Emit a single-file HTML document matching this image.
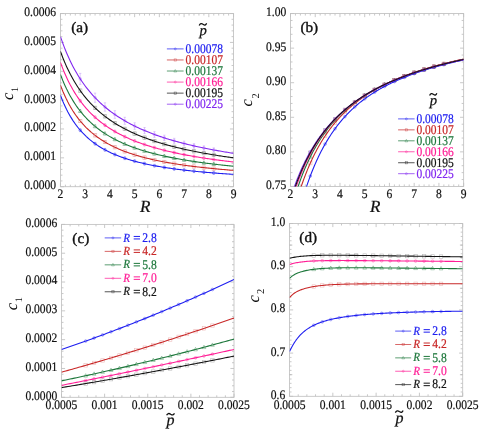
<!DOCTYPE html>
<html><head><meta charset="utf-8"><title>figure</title><style>html,body{margin:0;padding:0;background:#fff;}body{width:485px;height:434px;overflow:hidden;font-family:"Liberation Serif",serif;}svg{display:block;}</style></head><body>
<svg width="485" height="434" viewBox="0 0 485 434" font-family="Liberation Serif, serif" text-rendering="geometricPrecision" style="will-change:transform;opacity:0.999">
<defs>
<clipPath id="ca"><rect x="60.45" y="13.55" width="173.10" height="173.15"/></clipPath>
<clipPath id="cb"><rect x="290.50" y="13.55" width="173.15" height="172.90"/></clipPath>
<clipPath id="cc"><rect x="61.50" y="224.40" width="172.50" height="172.90"/></clipPath>
<clipPath id="cd"><rect x="289.55" y="223.50" width="173.15" height="172.80"/></clipPath>
</defs>
<rect width="485" height="434" fill="#fff"/>
<path d="M60.45 186.70 v-3.60 M60.45 13.55 v3.60 M65.40 186.70 v-2.00 M65.40 13.55 v2.00 M70.34 186.70 v-2.00 M70.34 13.55 v2.00 M75.29 186.70 v-2.00 M75.29 13.55 v2.00 M80.23 186.70 v-2.00 M80.23 13.55 v2.00 M85.18 186.70 v-3.60 M85.18 13.55 v3.60 M90.12 186.70 v-2.00 M90.12 13.55 v2.00 M95.07 186.70 v-2.00 M95.07 13.55 v2.00 M100.02 186.70 v-2.00 M100.02 13.55 v2.00 M104.96 186.70 v-2.00 M104.96 13.55 v2.00 M109.91 186.70 v-3.60 M109.91 13.55 v3.60 M114.85 186.70 v-2.00 M114.85 13.55 v2.00 M119.80 186.70 v-2.00 M119.80 13.55 v2.00 M124.74 186.70 v-2.00 M124.74 13.55 v2.00 M129.69 186.70 v-2.00 M129.69 13.55 v2.00 M134.64 186.70 v-3.60 M134.64 13.55 v3.60 M139.58 186.70 v-2.00 M139.58 13.55 v2.00 M144.53 186.70 v-2.00 M144.53 13.55 v2.00 M149.47 186.70 v-2.00 M149.47 13.55 v2.00 M154.42 186.70 v-2.00 M154.42 13.55 v2.00 M159.36 186.70 v-3.60 M159.36 13.55 v3.60 M164.31 186.70 v-2.00 M164.31 13.55 v2.00 M169.26 186.70 v-2.00 M169.26 13.55 v2.00 M174.20 186.70 v-2.00 M174.20 13.55 v2.00 M179.15 186.70 v-2.00 M179.15 13.55 v2.00 M184.09 186.70 v-3.60 M184.09 13.55 v3.60 M189.04 186.70 v-2.00 M189.04 13.55 v2.00 M193.98 186.70 v-2.00 M193.98 13.55 v2.00 M198.93 186.70 v-2.00 M198.93 13.55 v2.00 M203.88 186.70 v-2.00 M203.88 13.55 v2.00 M208.82 186.70 v-3.60 M208.82 13.55 v3.60 M213.77 186.70 v-2.00 M213.77 13.55 v2.00 M218.71 186.70 v-2.00 M218.71 13.55 v2.00 M223.66 186.70 v-2.00 M223.66 13.55 v2.00 M228.60 186.70 v-2.00 M228.60 13.55 v2.00 M233.55 186.70 v-3.60 M233.55 13.55 v3.60 M60.45 186.70 h3.60 M233.55 186.70 h-3.60 M60.45 180.93 h2.00 M233.55 180.93 h-2.00 M60.45 175.16 h2.00 M233.55 175.16 h-2.00 M60.45 169.38 h2.00 M233.55 169.38 h-2.00 M60.45 163.61 h2.00 M233.55 163.61 h-2.00 M60.45 157.84 h3.60 M233.55 157.84 h-3.60 M60.45 152.07 h2.00 M233.55 152.07 h-2.00 M60.45 146.30 h2.00 M233.55 146.30 h-2.00 M60.45 140.53 h2.00 M233.55 140.53 h-2.00 M60.45 134.75 h2.00 M233.55 134.75 h-2.00 M60.45 128.98 h3.60 M233.55 128.98 h-3.60 M60.45 123.21 h2.00 M233.55 123.21 h-2.00 M60.45 117.44 h2.00 M233.55 117.44 h-2.00 M60.45 111.67 h2.00 M233.55 111.67 h-2.00 M60.45 105.90 h2.00 M233.55 105.90 h-2.00 M60.45 100.12 h3.60 M233.55 100.12 h-3.60 M60.45 94.35 h2.00 M233.55 94.35 h-2.00 M60.45 88.58 h2.00 M233.55 88.58 h-2.00 M60.45 82.81 h2.00 M233.55 82.81 h-2.00 M60.45 77.04 h2.00 M233.55 77.04 h-2.00 M60.45 71.27 h3.60 M233.55 71.27 h-3.60 M60.45 65.49 h2.00 M233.55 65.49 h-2.00 M60.45 59.72 h2.00 M233.55 59.72 h-2.00 M60.45 53.95 h2.00 M233.55 53.95 h-2.00 M60.45 48.18 h2.00 M233.55 48.18 h-2.00 M60.45 42.41 h3.60 M233.55 42.41 h-3.60 M60.45 36.64 h2.00 M233.55 36.64 h-2.00 M60.45 30.86 h2.00 M233.55 30.86 h-2.00 M60.45 25.09 h2.00 M233.55 25.09 h-2.00 M60.45 19.32 h2.00 M233.55 19.32 h-2.00 M60.45 13.55 h3.60 M233.55 13.55 h-3.60" fill="none" stroke="#b2b2b2" stroke-width="0.7"/>
<rect x="60.45" y="13.55" width="173.10" height="173.15" fill="none" stroke="#c0c0c0" stroke-width="0.85"/>
<path d="M80.23 128.70 V131.70 M79.03 128.70 h2.4 M79.03 131.70 h2.4" fill="none" stroke="#1e1ef0" stroke-width="0.6" opacity="0.25"/>
<circle cx="80.23" cy="130.20" r="1.36" fill="#1e1ef0" fill-opacity="0.25" stroke="#1e1ef0" stroke-width="0.6" opacity="0.60"/>
<path d="M95.07 142.17 V145.17 M93.87 142.17 h2.4 M93.87 145.17 h2.4" fill="none" stroke="#1e1ef0" stroke-width="0.6" opacity="0.25"/>
<circle cx="95.07" cy="143.67" r="1.36" fill="#1e1ef0" fill-opacity="0.25" stroke="#1e1ef0" stroke-width="0.6" opacity="0.60"/>
<path d="M104.96 148.30 V151.30 M103.76 148.30 h2.4 M103.76 151.30 h2.4" fill="none" stroke="#1e1ef0" stroke-width="0.6" opacity="0.25"/>
<circle cx="104.96" cy="149.80" r="1.36" fill="#1e1ef0" fill-opacity="0.25" stroke="#1e1ef0" stroke-width="0.6" opacity="0.60"/>
<path d="M114.85 153.01 V156.01 M113.65 153.01 h2.4 M113.65 156.01 h2.4" fill="none" stroke="#1e1ef0" stroke-width="0.6" opacity="0.25"/>
<circle cx="114.85" cy="154.51" r="1.36" fill="#1e1ef0" fill-opacity="0.25" stroke="#1e1ef0" stroke-width="0.6" opacity="0.60"/>
<path d="M124.74 156.72 V159.72 M123.54 156.72 h2.4 M123.54 159.72 h2.4" fill="none" stroke="#1e1ef0" stroke-width="0.6" opacity="0.25"/>
<circle cx="124.74" cy="158.22" r="1.36" fill="#1e1ef0" fill-opacity="0.25" stroke="#1e1ef0" stroke-width="0.6" opacity="0.60"/>
<path d="M134.64 159.70 V162.70 M133.44 159.70 h2.4 M133.44 162.70 h2.4" fill="none" stroke="#1e1ef0" stroke-width="0.6" opacity="0.25"/>
<circle cx="134.64" cy="161.20" r="1.36" fill="#1e1ef0" fill-opacity="0.25" stroke="#1e1ef0" stroke-width="0.6" opacity="0.60"/>
<path d="M144.53 162.15 V165.15 M143.33 162.15 h2.4 M143.33 165.15 h2.4" fill="none" stroke="#1e1ef0" stroke-width="0.6" opacity="0.25"/>
<circle cx="144.53" cy="163.65" r="1.36" fill="#1e1ef0" fill-opacity="0.25" stroke="#1e1ef0" stroke-width="0.6" opacity="0.60"/>
<path d="M154.42 164.18 V167.18 M153.22 164.18 h2.4 M153.22 167.18 h2.4" fill="none" stroke="#1e1ef0" stroke-width="0.6" opacity="0.25"/>
<circle cx="154.42" cy="165.68" r="1.36" fill="#1e1ef0" fill-opacity="0.25" stroke="#1e1ef0" stroke-width="0.6" opacity="0.60"/>
<path d="M164.31 165.90 V168.90 M163.11 165.90 h2.4 M163.11 168.90 h2.4" fill="none" stroke="#1e1ef0" stroke-width="0.6" opacity="0.25"/>
<circle cx="164.31" cy="167.40" r="1.36" fill="#1e1ef0" fill-opacity="0.25" stroke="#1e1ef0" stroke-width="0.6" opacity="0.60"/>
<path d="M174.20 167.35 V170.35 M173.00 167.35 h2.4 M173.00 170.35 h2.4" fill="none" stroke="#1e1ef0" stroke-width="0.6" opacity="0.25"/>
<circle cx="174.20" cy="168.85" r="1.36" fill="#1e1ef0" fill-opacity="0.25" stroke="#1e1ef0" stroke-width="0.6" opacity="0.60"/>
<path d="M184.09 168.60 V171.60 M182.89 168.60 h2.4 M182.89 171.60 h2.4" fill="none" stroke="#1e1ef0" stroke-width="0.6" opacity="0.25"/>
<circle cx="184.09" cy="170.10" r="1.36" fill="#1e1ef0" fill-opacity="0.25" stroke="#1e1ef0" stroke-width="0.6" opacity="0.60"/>
<path d="M193.98 169.69 V172.69 M192.78 169.69 h2.4 M192.78 172.69 h2.4" fill="none" stroke="#1e1ef0" stroke-width="0.6" opacity="0.25"/>
<circle cx="193.98" cy="171.19" r="1.36" fill="#1e1ef0" fill-opacity="0.25" stroke="#1e1ef0" stroke-width="0.6" opacity="0.60"/>
<path d="M203.88 170.64 V173.64 M202.68 170.64 h2.4 M202.68 173.64 h2.4" fill="none" stroke="#1e1ef0" stroke-width="0.6" opacity="0.25"/>
<circle cx="203.88" cy="172.14" r="1.36" fill="#1e1ef0" fill-opacity="0.25" stroke="#1e1ef0" stroke-width="0.6" opacity="0.60"/>
<path d="M213.77 171.48 V174.48 M212.57 171.48 h2.4 M212.57 174.48 h2.4" fill="none" stroke="#1e1ef0" stroke-width="0.6" opacity="0.25"/>
<circle cx="213.77" cy="172.98" r="1.36" fill="#1e1ef0" fill-opacity="0.25" stroke="#1e1ef0" stroke-width="0.6" opacity="0.60"/>
<path d="M80.23 119.50 V122.50 M79.03 119.50 h2.4 M79.03 122.50 h2.4" fill="none" stroke="#c82828" stroke-width="0.6" opacity="0.25"/>
<rect x="78.53" y="119.30" width="3.40" height="3.40" fill="none" stroke="#c82828" stroke-width="0.6" opacity="0.32"/>
<path d="M95.07 133.85 V136.85 M93.87 133.85 h2.4 M93.87 136.85 h2.4" fill="none" stroke="#c82828" stroke-width="0.6" opacity="0.25"/>
<rect x="93.37" y="133.65" width="3.40" height="3.40" fill="none" stroke="#c82828" stroke-width="0.6" opacity="0.32"/>
<path d="M104.96 140.53 V143.53 M103.76 140.53 h2.4 M103.76 143.53 h2.4" fill="none" stroke="#c82828" stroke-width="0.6" opacity="0.25"/>
<rect x="103.26" y="140.33" width="3.40" height="3.40" fill="none" stroke="#c82828" stroke-width="0.6" opacity="0.32"/>
<path d="M114.85 145.74 V148.74 M113.65 145.74 h2.4 M113.65 148.74 h2.4" fill="none" stroke="#c82828" stroke-width="0.6" opacity="0.25"/>
<rect x="113.15" y="145.54" width="3.40" height="3.40" fill="none" stroke="#c82828" stroke-width="0.6" opacity="0.32"/>
<path d="M124.74 149.90 V152.90 M123.54 149.90 h2.4 M123.54 152.90 h2.4" fill="none" stroke="#c82828" stroke-width="0.6" opacity="0.25"/>
<rect x="123.04" y="149.70" width="3.40" height="3.40" fill="none" stroke="#c82828" stroke-width="0.6" opacity="0.32"/>
<path d="M134.64 153.29 V156.29 M133.44 153.29 h2.4 M133.44 156.29 h2.4" fill="none" stroke="#c82828" stroke-width="0.6" opacity="0.25"/>
<rect x="132.94" y="153.09" width="3.40" height="3.40" fill="none" stroke="#c82828" stroke-width="0.6" opacity="0.32"/>
<path d="M144.53 156.10 V159.10 M143.33 156.10 h2.4 M143.33 159.10 h2.4" fill="none" stroke="#c82828" stroke-width="0.6" opacity="0.25"/>
<rect x="142.83" y="155.90" width="3.40" height="3.40" fill="none" stroke="#c82828" stroke-width="0.6" opacity="0.32"/>
<path d="M154.42 158.46 V161.46 M153.22 158.46 h2.4 M153.22 161.46 h2.4" fill="none" stroke="#c82828" stroke-width="0.6" opacity="0.25"/>
<rect x="152.72" y="158.26" width="3.40" height="3.40" fill="none" stroke="#c82828" stroke-width="0.6" opacity="0.32"/>
<path d="M164.31 160.46 V163.46 M163.11 160.46 h2.4 M163.11 163.46 h2.4" fill="none" stroke="#c82828" stroke-width="0.6" opacity="0.25"/>
<rect x="162.61" y="160.26" width="3.40" height="3.40" fill="none" stroke="#c82828" stroke-width="0.6" opacity="0.32"/>
<path d="M174.20 162.18 V165.18 M173.00 162.18 h2.4 M173.00 165.18 h2.4" fill="none" stroke="#c82828" stroke-width="0.6" opacity="0.25"/>
<rect x="172.50" y="161.98" width="3.40" height="3.40" fill="none" stroke="#c82828" stroke-width="0.6" opacity="0.32"/>
<path d="M184.09 163.68 V166.68 M182.89 163.68 h2.4 M182.89 166.68 h2.4" fill="none" stroke="#c82828" stroke-width="0.6" opacity="0.25"/>
<rect x="182.39" y="163.48" width="3.40" height="3.40" fill="none" stroke="#c82828" stroke-width="0.6" opacity="0.32"/>
<path d="M193.98 164.98 V167.98 M192.78 164.98 h2.4 M192.78 167.98 h2.4" fill="none" stroke="#c82828" stroke-width="0.6" opacity="0.25"/>
<rect x="192.28" y="164.78" width="3.40" height="3.40" fill="none" stroke="#c82828" stroke-width="0.6" opacity="0.32"/>
<path d="M203.88 166.13 V169.13 M202.68 166.13 h2.4 M202.68 169.13 h2.4" fill="none" stroke="#c82828" stroke-width="0.6" opacity="0.25"/>
<rect x="202.18" y="165.93" width="3.40" height="3.40" fill="none" stroke="#c82828" stroke-width="0.6" opacity="0.32"/>
<path d="M213.77 167.15 V170.15 M212.57 167.15 h2.4 M212.57 170.15 h2.4" fill="none" stroke="#c82828" stroke-width="0.6" opacity="0.25"/>
<rect x="212.07" y="166.95" width="3.40" height="3.40" fill="none" stroke="#c82828" stroke-width="0.6" opacity="0.32"/>
<path d="M80.23 109.59 V112.59 M79.03 109.59 h2.4 M79.03 112.59 h2.4" fill="none" stroke="#1e783c" stroke-width="0.6" opacity="0.25"/>
<path d="M80.23 109.05 L82.10 112.45 L78.36 112.45 Z" fill="none" stroke="#1e783c" stroke-width="0.6" opacity="0.60"/>
<path d="M95.07 124.84 V127.84 M93.87 124.84 h2.4 M93.87 127.84 h2.4" fill="none" stroke="#1e783c" stroke-width="0.6" opacity="0.25"/>
<path d="M95.07 124.30 L96.94 127.70 L93.20 127.70 Z" fill="none" stroke="#1e783c" stroke-width="0.6" opacity="0.60"/>
<path d="M104.96 132.09 V135.09 M103.76 132.09 h2.4 M103.76 135.09 h2.4" fill="none" stroke="#1e783c" stroke-width="0.6" opacity="0.25"/>
<path d="M104.96 131.55 L106.83 134.95 L103.09 134.95 Z" fill="none" stroke="#1e783c" stroke-width="0.6" opacity="0.60"/>
<path d="M114.85 137.84 V140.84 M113.65 137.84 h2.4 M113.65 140.84 h2.4" fill="none" stroke="#1e783c" stroke-width="0.6" opacity="0.25"/>
<path d="M114.85 137.30 L116.72 140.70 L112.98 140.70 Z" fill="none" stroke="#1e783c" stroke-width="0.6" opacity="0.60"/>
<path d="M124.74 142.49 V145.49 M123.54 142.49 h2.4 M123.54 145.49 h2.4" fill="none" stroke="#1e783c" stroke-width="0.6" opacity="0.25"/>
<path d="M124.74 141.95 L126.61 145.35 L122.87 145.35 Z" fill="none" stroke="#1e783c" stroke-width="0.6" opacity="0.60"/>
<path d="M134.64 146.32 V149.32 M133.44 146.32 h2.4 M133.44 149.32 h2.4" fill="none" stroke="#1e783c" stroke-width="0.6" opacity="0.25"/>
<path d="M134.64 145.78 L136.51 149.18 L132.77 149.18 Z" fill="none" stroke="#1e783c" stroke-width="0.6" opacity="0.60"/>
<path d="M144.53 149.54 V152.54 M143.33 149.54 h2.4 M143.33 152.54 h2.4" fill="none" stroke="#1e783c" stroke-width="0.6" opacity="0.25"/>
<path d="M144.53 149.00 L146.40 152.40 L142.66 152.40 Z" fill="none" stroke="#1e783c" stroke-width="0.6" opacity="0.60"/>
<path d="M154.42 152.26 V155.26 M153.22 152.26 h2.4 M153.22 155.26 h2.4" fill="none" stroke="#1e783c" stroke-width="0.6" opacity="0.25"/>
<path d="M154.42 151.72 L156.29 155.12 L152.55 155.12 Z" fill="none" stroke="#1e783c" stroke-width="0.6" opacity="0.60"/>
<path d="M164.31 154.61 V157.61 M163.11 154.61 h2.4 M163.11 157.61 h2.4" fill="none" stroke="#1e783c" stroke-width="0.6" opacity="0.25"/>
<path d="M164.31 154.07 L166.18 157.47 L162.44 157.47 Z" fill="none" stroke="#1e783c" stroke-width="0.6" opacity="0.60"/>
<path d="M174.20 156.64 V159.64 M173.00 156.64 h2.4 M173.00 159.64 h2.4" fill="none" stroke="#1e783c" stroke-width="0.6" opacity="0.25"/>
<path d="M174.20 156.10 L176.07 159.50 L172.33 159.50 Z" fill="none" stroke="#1e783c" stroke-width="0.6" opacity="0.60"/>
<path d="M184.09 158.41 V161.41 M182.89 158.41 h2.4 M182.89 161.41 h2.4" fill="none" stroke="#1e783c" stroke-width="0.6" opacity="0.25"/>
<path d="M184.09 157.87 L185.96 161.27 L182.22 161.27 Z" fill="none" stroke="#1e783c" stroke-width="0.6" opacity="0.60"/>
<path d="M193.98 159.98 V162.98 M192.78 159.98 h2.4 M192.78 162.98 h2.4" fill="none" stroke="#1e783c" stroke-width="0.6" opacity="0.25"/>
<path d="M193.98 159.44 L195.85 162.84 L192.11 162.84 Z" fill="none" stroke="#1e783c" stroke-width="0.6" opacity="0.60"/>
<path d="M203.88 161.36 V164.36 M202.68 161.36 h2.4 M202.68 164.36 h2.4" fill="none" stroke="#1e783c" stroke-width="0.6" opacity="0.25"/>
<path d="M203.88 160.82 L205.75 164.22 L202.01 164.22 Z" fill="none" stroke="#1e783c" stroke-width="0.6" opacity="0.60"/>
<path d="M213.77 162.60 V165.60 M212.57 162.60 h2.4 M212.57 165.60 h2.4" fill="none" stroke="#1e783c" stroke-width="0.6" opacity="0.25"/>
<path d="M213.77 162.06 L215.64 165.46 L211.90 165.46 Z" fill="none" stroke="#1e783c" stroke-width="0.6" opacity="0.60"/>
<path d="M80.23 99.39 V102.39 M79.03 99.39 h2.4 M79.03 102.39 h2.4" fill="none" stroke="#ff1e96" stroke-width="0.6" opacity="0.25"/>
<circle cx="80.23" cy="100.89" r="1.36" fill="#ff1e96" fill-opacity="0.25" stroke="#ff1e96" stroke-width="0.6" opacity="0.60"/>
<path d="M95.07 115.80 V118.80 M93.87 115.80 h2.4 M93.87 118.80 h2.4" fill="none" stroke="#ff1e96" stroke-width="0.6" opacity="0.25"/>
<circle cx="95.07" cy="117.30" r="1.36" fill="#ff1e96" fill-opacity="0.25" stroke="#ff1e96" stroke-width="0.6" opacity="0.60"/>
<path d="M104.96 123.70 V126.70 M103.76 123.70 h2.4 M103.76 126.70 h2.4" fill="none" stroke="#ff1e96" stroke-width="0.6" opacity="0.25"/>
<circle cx="104.96" cy="125.20" r="1.36" fill="#ff1e96" fill-opacity="0.25" stroke="#ff1e96" stroke-width="0.6" opacity="0.60"/>
<path d="M114.85 130.01 V133.01 M113.65 130.01 h2.4 M113.65 133.01 h2.4" fill="none" stroke="#ff1e96" stroke-width="0.6" opacity="0.25"/>
<circle cx="114.85" cy="131.51" r="1.36" fill="#ff1e96" fill-opacity="0.25" stroke="#ff1e96" stroke-width="0.6" opacity="0.60"/>
<path d="M124.74 135.17 V138.17 M123.54 135.17 h2.4 M123.54 138.17 h2.4" fill="none" stroke="#ff1e96" stroke-width="0.6" opacity="0.25"/>
<circle cx="124.74" cy="136.67" r="1.36" fill="#ff1e96" fill-opacity="0.25" stroke="#ff1e96" stroke-width="0.6" opacity="0.60"/>
<path d="M134.64 139.45 V142.45 M133.44 139.45 h2.4 M133.44 142.45 h2.4" fill="none" stroke="#ff1e96" stroke-width="0.6" opacity="0.25"/>
<circle cx="134.64" cy="140.95" r="1.36" fill="#ff1e96" fill-opacity="0.25" stroke="#ff1e96" stroke-width="0.6" opacity="0.60"/>
<path d="M144.53 143.06 V146.06 M143.33 143.06 h2.4 M143.33 146.06 h2.4" fill="none" stroke="#ff1e96" stroke-width="0.6" opacity="0.25"/>
<circle cx="144.53" cy="144.56" r="1.36" fill="#ff1e96" fill-opacity="0.25" stroke="#ff1e96" stroke-width="0.6" opacity="0.60"/>
<path d="M154.42 146.14 V149.14 M153.22 146.14 h2.4 M153.22 149.14 h2.4" fill="none" stroke="#ff1e96" stroke-width="0.6" opacity="0.25"/>
<circle cx="154.42" cy="147.64" r="1.36" fill="#ff1e96" fill-opacity="0.25" stroke="#ff1e96" stroke-width="0.6" opacity="0.60"/>
<path d="M164.31 148.80 V151.80 M163.11 148.80 h2.4 M163.11 151.80 h2.4" fill="none" stroke="#ff1e96" stroke-width="0.6" opacity="0.25"/>
<circle cx="164.31" cy="150.30" r="1.36" fill="#ff1e96" fill-opacity="0.25" stroke="#ff1e96" stroke-width="0.6" opacity="0.60"/>
<path d="M174.20 151.12 V154.12 M173.00 151.12 h2.4 M173.00 154.12 h2.4" fill="none" stroke="#ff1e96" stroke-width="0.6" opacity="0.25"/>
<circle cx="174.20" cy="152.62" r="1.36" fill="#ff1e96" fill-opacity="0.25" stroke="#ff1e96" stroke-width="0.6" opacity="0.60"/>
<path d="M184.09 153.15 V156.15 M182.89 153.15 h2.4 M182.89 156.15 h2.4" fill="none" stroke="#ff1e96" stroke-width="0.6" opacity="0.25"/>
<circle cx="184.09" cy="154.65" r="1.36" fill="#ff1e96" fill-opacity="0.25" stroke="#ff1e96" stroke-width="0.6" opacity="0.60"/>
<path d="M193.98 154.96 V157.96 M192.78 154.96 h2.4 M192.78 157.96 h2.4" fill="none" stroke="#ff1e96" stroke-width="0.6" opacity="0.25"/>
<circle cx="193.98" cy="156.46" r="1.36" fill="#ff1e96" fill-opacity="0.25" stroke="#ff1e96" stroke-width="0.6" opacity="0.60"/>
<path d="M203.88 156.57 V159.57 M202.68 156.57 h2.4 M202.68 159.57 h2.4" fill="none" stroke="#ff1e96" stroke-width="0.6" opacity="0.25"/>
<circle cx="203.88" cy="158.07" r="1.36" fill="#ff1e96" fill-opacity="0.25" stroke="#ff1e96" stroke-width="0.6" opacity="0.60"/>
<path d="M213.77 158.01 V161.01 M212.57 158.01 h2.4 M212.57 161.01 h2.4" fill="none" stroke="#ff1e96" stroke-width="0.6" opacity="0.25"/>
<circle cx="213.77" cy="159.51" r="1.36" fill="#ff1e96" fill-opacity="0.25" stroke="#ff1e96" stroke-width="0.6" opacity="0.60"/>
<path d="M80.23 89.09 V92.09 M79.03 89.09 h2.4 M79.03 92.09 h2.4" fill="none" stroke="#141414" stroke-width="0.6" opacity="0.25"/>
<rect x="78.53" y="88.89" width="3.40" height="3.40" fill="none" stroke="#141414" stroke-width="0.6" opacity="0.30"/>
<path d="M95.07 106.36 V109.36 M93.87 106.36 h2.4 M93.87 109.36 h2.4" fill="none" stroke="#141414" stroke-width="0.6" opacity="0.25"/>
<rect x="93.37" y="106.16" width="3.40" height="3.40" fill="none" stroke="#141414" stroke-width="0.6" opacity="0.30"/>
<path d="M104.96 114.83 V117.83 M103.76 114.83 h2.4 M103.76 117.83 h2.4" fill="none" stroke="#141414" stroke-width="0.6" opacity="0.25"/>
<rect x="103.26" y="114.63" width="3.40" height="3.40" fill="none" stroke="#141414" stroke-width="0.6" opacity="0.30"/>
<path d="M114.85 121.68 V124.68 M113.65 121.68 h2.4 M113.65 124.68 h2.4" fill="none" stroke="#141414" stroke-width="0.6" opacity="0.25"/>
<rect x="113.15" y="121.48" width="3.40" height="3.40" fill="none" stroke="#141414" stroke-width="0.6" opacity="0.30"/>
<path d="M124.74 127.34 V130.34 M123.54 127.34 h2.4 M123.54 130.34 h2.4" fill="none" stroke="#141414" stroke-width="0.6" opacity="0.25"/>
<rect x="123.04" y="127.14" width="3.40" height="3.40" fill="none" stroke="#141414" stroke-width="0.6" opacity="0.30"/>
<path d="M134.64 132.09 V135.09 M133.44 132.09 h2.4 M133.44 135.09 h2.4" fill="none" stroke="#141414" stroke-width="0.6" opacity="0.25"/>
<rect x="132.94" y="131.89" width="3.40" height="3.40" fill="none" stroke="#141414" stroke-width="0.6" opacity="0.30"/>
<path d="M144.53 136.13 V139.13 M143.33 136.13 h2.4 M143.33 139.13 h2.4" fill="none" stroke="#141414" stroke-width="0.6" opacity="0.25"/>
<rect x="142.83" y="135.93" width="3.40" height="3.40" fill="none" stroke="#141414" stroke-width="0.6" opacity="0.30"/>
<path d="M154.42 139.62 V142.62 M153.22 139.62 h2.4 M153.22 142.62 h2.4" fill="none" stroke="#141414" stroke-width="0.6" opacity="0.25"/>
<rect x="152.72" y="139.42" width="3.40" height="3.40" fill="none" stroke="#141414" stroke-width="0.6" opacity="0.30"/>
<path d="M164.31 142.65 V145.65 M163.11 142.65 h2.4 M163.11 145.65 h2.4" fill="none" stroke="#141414" stroke-width="0.6" opacity="0.25"/>
<rect x="162.61" y="142.45" width="3.40" height="3.40" fill="none" stroke="#141414" stroke-width="0.6" opacity="0.30"/>
<path d="M174.20 145.32 V148.32 M173.00 145.32 h2.4 M173.00 148.32 h2.4" fill="none" stroke="#141414" stroke-width="0.6" opacity="0.25"/>
<rect x="172.50" y="145.12" width="3.40" height="3.40" fill="none" stroke="#141414" stroke-width="0.6" opacity="0.30"/>
<path d="M184.09 147.68 V150.68 M182.89 147.68 h2.4 M182.89 150.68 h2.4" fill="none" stroke="#141414" stroke-width="0.6" opacity="0.25"/>
<rect x="182.39" y="147.48" width="3.40" height="3.40" fill="none" stroke="#141414" stroke-width="0.6" opacity="0.30"/>
<path d="M193.98 149.78 V152.78 M192.78 149.78 h2.4 M192.78 152.78 h2.4" fill="none" stroke="#141414" stroke-width="0.6" opacity="0.25"/>
<rect x="192.28" y="149.58" width="3.40" height="3.40" fill="none" stroke="#141414" stroke-width="0.6" opacity="0.30"/>
<path d="M203.88 151.67 V154.67 M202.68 151.67 h2.4 M202.68 154.67 h2.4" fill="none" stroke="#141414" stroke-width="0.6" opacity="0.25"/>
<rect x="202.18" y="151.47" width="3.40" height="3.40" fill="none" stroke="#141414" stroke-width="0.6" opacity="0.30"/>
<path d="M213.77 153.37 V156.37 M212.57 153.37 h2.4 M212.57 156.37 h2.4" fill="none" stroke="#141414" stroke-width="0.6" opacity="0.25"/>
<rect x="212.07" y="153.17" width="3.40" height="3.40" fill="none" stroke="#141414" stroke-width="0.6" opacity="0.30"/>
<path d="M80.23 73.36 V84.36 M79.03 73.36 h2.4 M79.03 84.36 h2.4" fill="none" stroke="#8228f0" stroke-width="0.6" opacity="0.38"/>
<circle cx="80.23" cy="78.86" r="1.36" fill="#8228f0" fill-opacity="0.25" stroke="#8228f0" stroke-width="0.6" opacity="0.40"/>
<path d="M95.07 93.06 V102.30 M93.87 93.06 h2.4 M93.87 102.30 h2.4" fill="none" stroke="#8228f0" stroke-width="0.6" opacity="0.38"/>
<circle cx="95.07" cy="97.68" r="1.36" fill="#8228f0" fill-opacity="0.25" stroke="#8228f0" stroke-width="0.6" opacity="0.40"/>
<path d="M104.96 102.80 V111.16 M103.76 102.80 h2.4 M103.76 111.16 h2.4" fill="none" stroke="#8228f0" stroke-width="0.6" opacity="0.38"/>
<circle cx="104.96" cy="106.98" r="1.36" fill="#8228f0" fill-opacity="0.25" stroke="#8228f0" stroke-width="0.6" opacity="0.40"/>
<path d="M114.85 110.71 V118.35 M113.65 110.71 h2.4 M113.65 118.35 h2.4" fill="none" stroke="#8228f0" stroke-width="0.6" opacity="0.38"/>
<circle cx="114.85" cy="114.53" r="1.36" fill="#8228f0" fill-opacity="0.25" stroke="#8228f0" stroke-width="0.6" opacity="0.40"/>
<path d="M124.74 117.27 V124.31 M123.54 117.27 h2.4 M123.54 124.31 h2.4" fill="none" stroke="#8228f0" stroke-width="0.6" opacity="0.38"/>
<circle cx="124.74" cy="120.79" r="1.36" fill="#8228f0" fill-opacity="0.25" stroke="#8228f0" stroke-width="0.6" opacity="0.40"/>
<path d="M134.64 122.80 V129.33 M133.44 122.80 h2.4 M133.44 129.33 h2.4" fill="none" stroke="#8228f0" stroke-width="0.6" opacity="0.38"/>
<circle cx="134.64" cy="126.06" r="1.36" fill="#8228f0" fill-opacity="0.25" stroke="#8228f0" stroke-width="0.6" opacity="0.40"/>
<path d="M144.53 127.53 V133.62 M143.33 127.53 h2.4 M143.33 133.62 h2.4" fill="none" stroke="#8228f0" stroke-width="0.6" opacity="0.38"/>
<circle cx="144.53" cy="130.57" r="1.36" fill="#8228f0" fill-opacity="0.25" stroke="#8228f0" stroke-width="0.6" opacity="0.40"/>
<path d="M154.42 131.61 V137.32 M153.22 131.61 h2.4 M153.22 137.32 h2.4" fill="none" stroke="#8228f0" stroke-width="0.6" opacity="0.38"/>
<circle cx="154.42" cy="134.46" r="1.36" fill="#8228f0" fill-opacity="0.25" stroke="#8228f0" stroke-width="0.6" opacity="0.40"/>
<path d="M164.31 135.18 V140.55 M163.11 135.18 h2.4 M163.11 140.55 h2.4" fill="none" stroke="#8228f0" stroke-width="0.6" opacity="0.38"/>
<circle cx="164.31" cy="137.86" r="1.36" fill="#8228f0" fill-opacity="0.25" stroke="#8228f0" stroke-width="0.6" opacity="0.40"/>
<path d="M174.20 138.32 V143.40 M173.00 138.32 h2.4 M173.00 143.40 h2.4" fill="none" stroke="#8228f0" stroke-width="0.6" opacity="0.38"/>
<circle cx="174.20" cy="140.86" r="1.36" fill="#8228f0" fill-opacity="0.25" stroke="#8228f0" stroke-width="0.6" opacity="0.40"/>
<path d="M184.09 141.11 V145.93 M182.89 141.11 h2.4 M182.89 145.93 h2.4" fill="none" stroke="#8228f0" stroke-width="0.6" opacity="0.38"/>
<circle cx="184.09" cy="143.52" r="1.36" fill="#8228f0" fill-opacity="0.25" stroke="#8228f0" stroke-width="0.6" opacity="0.40"/>
<path d="M193.98 143.60 V148.19 M192.78 143.60 h2.4 M192.78 148.19 h2.4" fill="none" stroke="#8228f0" stroke-width="0.6" opacity="0.38"/>
<circle cx="193.98" cy="145.89" r="1.36" fill="#8228f0" fill-opacity="0.25" stroke="#8228f0" stroke-width="0.6" opacity="0.40"/>
<path d="M203.88 145.84 V150.22 M202.68 145.84 h2.4 M202.68 150.22 h2.4" fill="none" stroke="#8228f0" stroke-width="0.6" opacity="0.38"/>
<circle cx="203.88" cy="148.03" r="1.36" fill="#8228f0" fill-opacity="0.25" stroke="#8228f0" stroke-width="0.6" opacity="0.40"/>
<path d="M213.77 147.87 V152.05 M212.57 147.87 h2.4 M212.57 152.05 h2.4" fill="none" stroke="#8228f0" stroke-width="0.6" opacity="0.38"/>
<circle cx="213.77" cy="149.96" r="1.36" fill="#8228f0" fill-opacity="0.25" stroke="#8228f0" stroke-width="0.6" opacity="0.40"/>
<path d="M60.45 95.30 L61.69 98.50 L62.92 101.51 L64.16 104.35 L65.40 107.02 L66.63 109.55 L67.87 111.95 L69.11 114.21 L70.34 116.36 L71.58 118.40 L72.81 120.34 L74.05 122.19 L75.29 123.95 L76.52 125.62 L77.76 127.22 L79.00 128.75 L80.23 130.20 L81.47 131.60 L82.71 132.94 L83.94 134.21 L85.18 135.44 L86.41 136.62 L87.65 137.75 L88.89 138.83 L90.12 139.88 L91.36 140.88 L92.60 141.84 L93.83 142.77 L95.07 143.67 L96.31 144.53 L97.54 145.37 L98.78 146.17 L100.02 146.94 L101.25 147.69 L102.49 148.42 L103.73 149.12 L104.96 149.80 L106.20 150.45 L107.43 151.09 L108.67 151.70 L109.91 152.30 L111.14 152.88 L112.38 153.44 L113.62 153.98 L114.85 154.51 L116.09 155.02 L117.33 155.52 L118.56 156.00 L119.80 156.47 L121.04 156.92 L122.27 157.37 L123.51 157.80 L124.74 158.22 L125.98 158.63 L127.22 159.02 L128.45 159.41 L129.69 159.79 L130.93 160.16 L132.16 160.51 L133.40 160.86 L134.64 161.20 L135.87 161.54 L137.11 161.86 L138.35 162.18 L139.58 162.49 L140.82 162.79 L142.05 163.08 L143.29 163.37 L144.53 163.65 L145.76 163.93 L147.00 164.19 L148.24 164.46 L149.47 164.71 L150.71 164.96 L151.95 165.21 L153.18 165.45 L154.42 165.68 L155.66 165.91 L156.89 166.14 L158.13 166.36 L159.36 166.57 L160.60 166.79 L161.84 166.99 L163.07 167.20 L164.31 167.40 L165.55 167.59 L166.78 167.78 L168.02 167.97 L169.26 168.15 L170.49 168.33 L171.73 168.51 L172.97 168.68 L174.20 168.85 L175.44 169.02 L176.67 169.18 L177.91 169.34 L179.15 169.50 L180.38 169.66 L181.62 169.81 L182.86 169.96 L184.09 170.10 L185.33 170.25 L186.57 170.39 L187.80 170.53 L189.04 170.67 L190.28 170.80 L191.51 170.93 L192.75 171.06 L193.98 171.19 L195.22 171.32 L196.46 171.44 L197.69 171.56 L198.93 171.68 L200.17 171.80 L201.40 171.91 L202.64 172.03 L203.88 172.14 L205.11 172.25 L206.35 172.36 L207.59 172.47 L208.82 172.57 L210.06 172.67 L211.29 172.78 L212.53 172.88 L213.77 172.98 L215.00 173.07 L216.24 173.17 L217.48 173.26 L218.71 173.36 L219.95 173.45 L221.19 173.54 L222.42 173.63 L223.66 173.71 L224.90 173.80 L226.13 173.89 L227.37 173.97 L228.60 174.05 L229.84 174.14 L231.08 174.22 L232.31 174.30 L233.55 174.37" fill="none" stroke="#1e1ef0" stroke-width="1.10" stroke-linejoin="round" clip-path="url(#ca)"/>
<path d="M60.45 85.21 L61.69 88.42 L62.92 91.46 L64.16 94.33 L65.40 97.05 L66.63 99.62 L67.87 102.07 L69.11 104.39 L70.34 106.60 L71.58 108.71 L72.81 110.71 L74.05 112.62 L75.29 114.45 L76.52 116.20 L77.76 117.87 L79.00 119.47 L80.23 121.00 L81.47 122.47 L82.71 123.88 L83.94 125.24 L85.18 126.54 L86.41 127.79 L87.65 128.99 L88.89 130.15 L90.12 131.27 L91.36 132.35 L92.60 133.38 L93.83 134.39 L95.07 135.35 L96.31 136.29 L97.54 137.19 L98.78 138.07 L100.02 138.91 L101.25 139.73 L102.49 140.52 L103.73 141.29 L104.96 142.03 L106.20 142.75 L107.43 143.45 L108.67 144.13 L109.91 144.79 L111.14 145.43 L112.38 146.05 L113.62 146.65 L114.85 147.24 L116.09 147.81 L117.33 148.37 L118.56 148.91 L119.80 149.43 L121.04 149.94 L122.27 150.44 L123.51 150.93 L124.74 151.40 L125.98 151.86 L127.22 152.31 L128.45 152.75 L129.69 153.18 L130.93 153.60 L132.16 154.00 L133.40 154.40 L134.64 154.79 L135.87 155.17 L137.11 155.54 L138.35 155.90 L139.58 156.26 L140.82 156.60 L142.05 156.94 L143.29 157.27 L144.53 157.60 L145.76 157.91 L147.00 158.22 L148.24 158.53 L149.47 158.83 L150.71 159.12 L151.95 159.40 L153.18 159.68 L154.42 159.96 L155.66 160.22 L156.89 160.49 L158.13 160.74 L159.36 161.00 L160.60 161.24 L161.84 161.49 L163.07 161.73 L164.31 161.96 L165.55 162.19 L166.78 162.41 L168.02 162.64 L169.26 162.85 L170.49 163.07 L171.73 163.27 L172.97 163.48 L174.20 163.68 L175.44 163.88 L176.67 164.07 L177.91 164.27 L179.15 164.45 L180.38 164.64 L181.62 164.82 L182.86 165.00 L184.09 165.18 L185.33 165.35 L186.57 165.52 L187.80 165.68 L189.04 165.85 L190.28 166.01 L191.51 166.17 L192.75 166.33 L193.98 166.48 L195.22 166.63 L196.46 166.78 L197.69 166.93 L198.93 167.07 L200.17 167.22 L201.40 167.36 L202.64 167.49 L203.88 167.63 L205.11 167.76 L206.35 167.90 L207.59 168.03 L208.82 168.15 L210.06 168.28 L211.29 168.41 L212.53 168.53 L213.77 168.65 L215.00 168.77 L216.24 168.89 L217.48 169.00 L218.71 169.12 L219.95 169.23 L221.19 169.34 L222.42 169.45 L223.66 169.56 L224.90 169.66 L226.13 169.77 L227.37 169.87 L228.60 169.97 L229.84 170.08 L231.08 170.18 L232.31 170.27 L233.55 170.37" fill="none" stroke="#c82828" stroke-width="1.10" stroke-linejoin="round" clip-path="url(#ca)"/>
<path d="M60.45 74.49 L61.69 77.71 L62.92 80.77 L64.16 83.66 L65.40 86.41 L66.63 89.03 L67.87 91.52 L69.11 93.89 L70.34 96.15 L71.58 98.32 L72.81 100.38 L74.05 102.36 L75.29 104.25 L76.52 106.07 L77.76 107.81 L79.00 109.48 L80.23 111.09 L81.47 112.63 L82.71 114.12 L83.94 115.54 L85.18 116.92 L86.41 118.25 L87.65 119.53 L88.89 120.76 L90.12 121.96 L91.36 123.11 L92.60 124.22 L93.83 125.30 L95.07 126.34 L96.31 127.35 L97.54 128.32 L98.78 129.27 L100.02 130.19 L101.25 131.08 L102.49 131.94 L103.73 132.78 L104.96 133.59 L106.20 134.38 L107.43 135.15 L108.67 135.90 L109.91 136.62 L111.14 137.33 L112.38 138.02 L113.62 138.69 L114.85 139.34 L116.09 139.97 L117.33 140.59 L118.56 141.19 L119.80 141.78 L121.04 142.35 L122.27 142.91 L123.51 143.46 L124.74 143.99 L125.98 144.51 L127.22 145.01 L128.45 145.51 L129.69 145.99 L130.93 146.47 L132.16 146.93 L133.40 147.38 L134.64 147.82 L135.87 148.26 L137.11 148.68 L138.35 149.09 L139.58 149.50 L140.82 149.90 L142.05 150.28 L143.29 150.66 L144.53 151.04 L145.76 151.40 L147.00 151.76 L148.24 152.11 L149.47 152.45 L150.71 152.79 L151.95 153.12 L153.18 153.45 L154.42 153.76 L155.66 154.08 L156.89 154.38 L158.13 154.68 L159.36 154.98 L160.60 155.27 L161.84 155.55 L163.07 155.83 L164.31 156.11 L165.55 156.38 L166.78 156.64 L168.02 156.90 L169.26 157.16 L170.49 157.41 L171.73 157.65 L172.97 157.90 L174.20 158.14 L175.44 158.37 L176.67 158.60 L177.91 158.83 L179.15 159.05 L180.38 159.27 L181.62 159.49 L182.86 159.70 L184.09 159.91 L185.33 160.12 L186.57 160.32 L187.80 160.52 L189.04 160.72 L190.28 160.91 L191.51 161.10 L192.75 161.29 L193.98 161.48 L195.22 161.66 L196.46 161.84 L197.69 162.02 L198.93 162.19 L200.17 162.36 L201.40 162.53 L202.64 162.70 L203.88 162.86 L205.11 163.03 L206.35 163.19 L207.59 163.35 L208.82 163.50 L210.06 163.66 L211.29 163.81 L212.53 163.96 L213.77 164.10 L215.00 164.25 L216.24 164.39 L217.48 164.54 L218.71 164.68 L219.95 164.81 L221.19 164.95 L222.42 165.08 L223.66 165.22 L224.90 165.35 L226.13 165.48 L227.37 165.61 L228.60 165.73 L229.84 165.86 L231.08 165.98 L232.31 166.10 L233.55 166.22" fill="none" stroke="#1e783c" stroke-width="1.10" stroke-linejoin="round" clip-path="url(#ca)"/>
<path d="M60.45 62.37 L61.69 65.72 L62.92 68.90 L64.16 71.93 L65.40 74.80 L66.63 77.54 L67.87 80.16 L69.11 82.65 L70.34 85.04 L71.58 87.32 L72.81 89.51 L74.05 91.60 L75.29 93.61 L76.52 95.54 L77.76 97.39 L79.00 99.17 L80.23 100.89 L81.47 102.54 L82.71 104.12 L83.94 105.66 L85.18 107.13 L86.41 108.56 L87.65 109.94 L88.89 111.27 L90.12 112.55 L91.36 113.80 L92.60 115.00 L93.83 116.17 L95.07 117.30 L96.31 118.39 L97.54 119.45 L98.78 120.48 L100.02 121.48 L101.25 122.45 L102.49 123.40 L103.73 124.31 L104.96 125.20 L106.20 126.07 L107.43 126.91 L108.67 127.73 L109.91 128.53 L111.14 129.30 L112.38 130.06 L113.62 130.80 L114.85 131.51 L116.09 132.22 L117.33 132.90 L118.56 133.56 L119.80 134.22 L121.04 134.85 L122.27 135.47 L123.51 136.08 L124.74 136.67 L125.98 137.24 L127.22 137.81 L128.45 138.36 L129.69 138.90 L130.93 139.43 L132.16 139.95 L133.40 140.45 L134.64 140.95 L135.87 141.43 L137.11 141.91 L138.35 142.37 L139.58 142.82 L140.82 143.27 L142.05 143.71 L143.29 144.14 L144.53 144.56 L145.76 144.97 L147.00 145.37 L148.24 145.77 L149.47 146.15 L150.71 146.54 L151.95 146.91 L153.18 147.28 L154.42 147.64 L155.66 147.99 L156.89 148.34 L158.13 148.68 L159.36 149.01 L160.60 149.34 L161.84 149.67 L163.07 149.98 L164.31 150.30 L165.55 150.60 L166.78 150.91 L168.02 151.20 L169.26 151.50 L170.49 151.78 L171.73 152.06 L172.97 152.34 L174.20 152.62 L175.44 152.88 L176.67 153.15 L177.91 153.41 L179.15 153.67 L180.38 153.92 L181.62 154.17 L182.86 154.41 L184.09 154.65 L185.33 154.89 L186.57 155.13 L187.80 155.36 L189.04 155.58 L190.28 155.81 L191.51 156.03 L192.75 156.24 L193.98 156.46 L195.22 156.67 L196.46 156.88 L197.69 157.08 L198.93 157.28 L200.17 157.48 L201.40 157.68 L202.64 157.88 L203.88 158.07 L205.11 158.26 L206.35 158.44 L207.59 158.63 L208.82 158.81 L210.06 158.99 L211.29 159.16 L212.53 159.34 L213.77 159.51 L215.00 159.68 L216.24 159.85 L217.48 160.01 L218.71 160.17 L219.95 160.34 L221.19 160.50 L222.42 160.65 L223.66 160.81 L224.90 160.96 L226.13 161.11 L227.37 161.26 L228.60 161.41 L229.84 161.56 L231.08 161.70 L232.31 161.84 L233.55 161.99" fill="none" stroke="#ff1e96" stroke-width="1.10" stroke-linejoin="round" clip-path="url(#ca)"/>
<path d="M60.45 51.41 L61.69 54.75 L62.92 57.94 L64.16 60.98 L65.40 63.88 L66.63 66.66 L67.87 69.31 L69.11 71.84 L70.34 74.28 L71.58 76.61 L72.81 78.85 L74.05 81.00 L75.29 83.06 L76.52 85.05 L77.76 86.97 L79.00 88.81 L80.23 90.59 L81.47 92.31 L82.71 93.97 L83.94 95.57 L85.18 97.12 L86.41 98.61 L87.65 100.06 L88.89 101.46 L90.12 102.82 L91.36 104.14 L92.60 105.42 L93.83 106.65 L95.07 107.86 L96.31 109.02 L97.54 110.16 L98.78 111.26 L100.02 112.33 L101.25 113.37 L102.49 114.38 L103.73 115.37 L104.96 116.33 L106.20 117.26 L107.43 118.17 L108.67 119.06 L109.91 119.93 L111.14 120.77 L112.38 121.59 L113.62 122.40 L114.85 123.18 L116.09 123.95 L117.33 124.69 L118.56 125.42 L119.80 126.14 L121.04 126.84 L122.27 127.52 L123.51 128.19 L124.74 128.84 L125.98 129.48 L127.22 130.10 L128.45 130.71 L129.69 131.31 L130.93 131.90 L132.16 132.47 L133.40 133.04 L134.64 133.59 L135.87 134.13 L137.11 134.66 L138.35 135.18 L139.58 135.69 L140.82 136.19 L142.05 136.68 L143.29 137.16 L144.53 137.63 L145.76 138.10 L147.00 138.55 L148.24 139.00 L149.47 139.44 L150.71 139.87 L151.95 140.29 L153.18 140.71 L154.42 141.12 L155.66 141.52 L156.89 141.92 L158.13 142.31 L159.36 142.69 L160.60 143.06 L161.84 143.43 L163.07 143.80 L164.31 144.15 L165.55 144.51 L166.78 144.85 L168.02 145.19 L169.26 145.53 L170.49 145.86 L171.73 146.18 L172.97 146.50 L174.20 146.82 L175.44 147.13 L176.67 147.44 L177.91 147.74 L179.15 148.03 L180.38 148.33 L181.62 148.62 L182.86 148.90 L184.09 149.18 L185.33 149.46 L186.57 149.73 L187.80 150.00 L189.04 150.26 L190.28 150.52 L191.51 150.78 L192.75 151.03 L193.98 151.28 L195.22 151.53 L196.46 151.77 L197.69 152.02 L198.93 152.25 L200.17 152.49 L201.40 152.72 L202.64 152.95 L203.88 153.17 L205.11 153.39 L206.35 153.61 L207.59 153.83 L208.82 154.04 L210.06 154.26 L211.29 154.46 L212.53 154.67 L213.77 154.87 L215.00 155.08 L216.24 155.27 L217.48 155.47 L218.71 155.67 L219.95 155.86 L221.19 156.05 L222.42 156.23 L223.66 156.42 L224.90 156.60 L226.13 156.78 L227.37 156.96 L228.60 157.14 L229.84 157.31 L231.08 157.49 L232.31 157.66 L233.55 157.83" fill="none" stroke="#141414" stroke-width="1.10" stroke-linejoin="round" clip-path="url(#ca)"/>
<path d="M60.45 36.60 L61.69 40.19 L62.92 43.61 L64.16 46.88 L65.40 50.00 L66.63 52.98 L67.87 55.84 L69.11 58.57 L70.34 61.19 L71.58 63.71 L72.81 66.13 L74.05 68.46 L75.29 70.70 L76.52 72.85 L77.76 74.93 L79.00 76.93 L80.23 78.86 L81.47 80.73 L82.71 82.53 L83.94 84.27 L85.18 85.96 L86.41 87.59 L87.65 89.17 L88.89 90.70 L90.12 92.18 L91.36 93.62 L92.60 95.01 L93.83 96.37 L95.07 97.68 L96.31 98.96 L97.54 100.20 L98.78 101.41 L100.02 102.58 L101.25 103.73 L102.49 104.84 L103.73 105.92 L104.96 106.98 L106.20 108.01 L107.43 109.01 L108.67 109.99 L109.91 110.94 L111.14 111.87 L112.38 112.78 L113.62 113.66 L114.85 114.53 L116.09 115.38 L117.33 116.20 L118.56 117.01 L119.80 117.80 L121.04 118.57 L122.27 119.33 L123.51 120.07 L124.74 120.79 L125.98 121.50 L127.22 122.19 L128.45 122.87 L129.69 123.54 L130.93 124.19 L132.16 124.83 L133.40 125.45 L134.64 126.06 L135.87 126.67 L137.11 127.26 L138.35 127.84 L139.58 128.40 L140.82 128.96 L142.05 129.51 L143.29 130.04 L144.53 130.57 L145.76 131.09 L147.00 131.60 L148.24 132.10 L149.47 132.59 L150.71 133.07 L151.95 133.54 L153.18 134.01 L154.42 134.46 L155.66 134.91 L156.89 135.36 L158.13 135.79 L159.36 136.22 L160.60 136.64 L161.84 137.06 L163.07 137.46 L164.31 137.86 L165.55 138.26 L166.78 138.65 L168.02 139.03 L169.26 139.41 L170.49 139.78 L171.73 140.14 L172.97 140.50 L174.20 140.86 L175.44 141.21 L176.67 141.55 L177.91 141.89 L179.15 142.23 L180.38 142.56 L181.62 142.88 L182.86 143.20 L184.09 143.52 L185.33 143.83 L186.57 144.14 L187.80 144.44 L189.04 144.74 L190.28 145.03 L191.51 145.32 L192.75 145.61 L193.98 145.89 L195.22 146.17 L196.46 146.45 L197.69 146.72 L198.93 146.99 L200.17 147.25 L201.40 147.52 L202.64 147.77 L203.88 148.03 L205.11 148.28 L206.35 148.53 L207.59 148.78 L208.82 149.02 L210.06 149.26 L211.29 149.49 L212.53 149.73 L213.77 149.96 L215.00 150.19 L216.24 150.41 L217.48 150.64 L218.71 150.86 L219.95 151.08 L221.19 151.29 L222.42 151.50 L223.66 151.71 L224.90 151.92 L226.13 152.13 L227.37 152.33 L228.60 152.53 L229.84 152.73 L231.08 152.93 L232.31 153.12 L233.55 153.31" fill="none" stroke="#8228f0" stroke-width="1.10" stroke-linejoin="round" clip-path="url(#ca)"/>
<text transform="translate(60.45 198.40) scale(0.890 1)" font-size="13.00" text-anchor="middle" fill="#111"   stroke="#111" stroke-width="0.22">2</text>
<text transform="translate(85.18 198.40) scale(0.890 1)" font-size="13.00" text-anchor="middle" fill="#111"   stroke="#111" stroke-width="0.22">3</text>
<text transform="translate(109.91 198.40) scale(0.890 1)" font-size="13.00" text-anchor="middle" fill="#111"   stroke="#111" stroke-width="0.22">4</text>
<text transform="translate(134.64 198.40) scale(0.890 1)" font-size="13.00" text-anchor="middle" fill="#111"   stroke="#111" stroke-width="0.22">5</text>
<text transform="translate(159.36 198.40) scale(0.890 1)" font-size="13.00" text-anchor="middle" fill="#111"   stroke="#111" stroke-width="0.22">6</text>
<text transform="translate(184.09 198.40) scale(0.890 1)" font-size="13.00" text-anchor="middle" fill="#111"   stroke="#111" stroke-width="0.22">7</text>
<text transform="translate(208.82 198.40) scale(0.890 1)" font-size="13.00" text-anchor="middle" fill="#111"   stroke="#111" stroke-width="0.22">8</text>
<text transform="translate(233.55 198.40) scale(0.890 1)" font-size="13.00" text-anchor="middle" fill="#111"   stroke="#111" stroke-width="0.22">9</text>
<text transform="translate(56.15 189.10) scale(0.890 1)" font-size="13.00" text-anchor="end" fill="#111"   stroke="#111" stroke-width="0.22">0.0000</text>
<text transform="translate(56.15 160.24) scale(0.890 1)" font-size="13.00" text-anchor="end" fill="#111"   stroke="#111" stroke-width="0.22">0.0001</text>
<text transform="translate(56.15 131.38) scale(0.890 1)" font-size="13.00" text-anchor="end" fill="#111"   stroke="#111" stroke-width="0.22">0.0002</text>
<text transform="translate(56.15 102.52) scale(0.890 1)" font-size="13.00" text-anchor="end" fill="#111"   stroke="#111" stroke-width="0.22">0.0003</text>
<text transform="translate(56.15 73.67) scale(0.890 1)" font-size="13.00" text-anchor="end" fill="#111"   stroke="#111" stroke-width="0.22">0.0004</text>
<text transform="translate(56.15 44.81) scale(0.890 1)" font-size="13.00" text-anchor="end" fill="#111"   stroke="#111" stroke-width="0.22">0.0005</text>
<text transform="translate(56.15 15.95) scale(0.890 1)" font-size="13.00" text-anchor="end" fill="#111"   stroke="#111" stroke-width="0.22">0.0006</text>
<path d="M290.50 186.45 v-3.60 M290.50 13.55 v3.60 M295.45 186.45 v-2.00 M295.45 13.55 v2.00 M300.39 186.45 v-2.00 M300.39 13.55 v2.00 M305.34 186.45 v-2.00 M305.34 13.55 v2.00 M310.29 186.45 v-2.00 M310.29 13.55 v2.00 M315.24 186.45 v-3.60 M315.24 13.55 v3.60 M320.18 186.45 v-2.00 M320.18 13.55 v2.00 M325.13 186.45 v-2.00 M325.13 13.55 v2.00 M330.08 186.45 v-2.00 M330.08 13.55 v2.00 M335.02 186.45 v-2.00 M335.02 13.55 v2.00 M339.97 186.45 v-3.60 M339.97 13.55 v3.60 M344.92 186.45 v-2.00 M344.92 13.55 v2.00 M349.87 186.45 v-2.00 M349.87 13.55 v2.00 M354.81 186.45 v-2.00 M354.81 13.55 v2.00 M359.76 186.45 v-2.00 M359.76 13.55 v2.00 M364.71 186.45 v-3.60 M364.71 13.55 v3.60 M369.65 186.45 v-2.00 M369.65 13.55 v2.00 M374.60 186.45 v-2.00 M374.60 13.55 v2.00 M379.55 186.45 v-2.00 M379.55 13.55 v2.00 M384.50 186.45 v-2.00 M384.50 13.55 v2.00 M389.44 186.45 v-3.60 M389.44 13.55 v3.60 M394.39 186.45 v-2.00 M394.39 13.55 v2.00 M399.34 186.45 v-2.00 M399.34 13.55 v2.00 M404.28 186.45 v-2.00 M404.28 13.55 v2.00 M409.23 186.45 v-2.00 M409.23 13.55 v2.00 M414.18 186.45 v-3.60 M414.18 13.55 v3.60 M419.13 186.45 v-2.00 M419.13 13.55 v2.00 M424.07 186.45 v-2.00 M424.07 13.55 v2.00 M429.02 186.45 v-2.00 M429.02 13.55 v2.00 M433.97 186.45 v-2.00 M433.97 13.55 v2.00 M438.91 186.45 v-3.60 M438.91 13.55 v3.60 M443.86 186.45 v-2.00 M443.86 13.55 v2.00 M448.81 186.45 v-2.00 M448.81 13.55 v2.00 M453.76 186.45 v-2.00 M453.76 13.55 v2.00 M458.70 186.45 v-2.00 M458.70 13.55 v2.00 M463.65 186.45 v-3.60 M463.65 13.55 v3.60 M290.50 186.45 h3.60 M463.65 186.45 h-3.60 M290.50 179.53 h2.00 M463.65 179.53 h-2.00 M290.50 172.62 h2.00 M463.65 172.62 h-2.00 M290.50 165.70 h2.00 M463.65 165.70 h-2.00 M290.50 158.79 h2.00 M463.65 158.79 h-2.00 M290.50 151.87 h3.60 M463.65 151.87 h-3.60 M290.50 144.95 h2.00 M463.65 144.95 h-2.00 M290.50 138.04 h2.00 M463.65 138.04 h-2.00 M290.50 131.12 h2.00 M463.65 131.12 h-2.00 M290.50 124.21 h2.00 M463.65 124.21 h-2.00 M290.50 117.29 h3.60 M463.65 117.29 h-3.60 M290.50 110.37 h2.00 M463.65 110.37 h-2.00 M290.50 103.46 h2.00 M463.65 103.46 h-2.00 M290.50 96.54 h2.00 M463.65 96.54 h-2.00 M290.50 89.63 h2.00 M463.65 89.63 h-2.00 M290.50 82.71 h3.60 M463.65 82.71 h-3.60 M290.50 75.79 h2.00 M463.65 75.79 h-2.00 M290.50 68.88 h2.00 M463.65 68.88 h-2.00 M290.50 61.96 h2.00 M463.65 61.96 h-2.00 M290.50 55.05 h2.00 M463.65 55.05 h-2.00 M290.50 48.13 h3.60 M463.65 48.13 h-3.60 M290.50 41.21 h2.00 M463.65 41.21 h-2.00 M290.50 34.30 h2.00 M463.65 34.30 h-2.00 M290.50 27.38 h2.00 M463.65 27.38 h-2.00 M290.50 20.47 h2.00 M463.65 20.47 h-2.00 M290.50 13.55 h3.60 M463.65 13.55 h-3.60" fill="none" stroke="#b2b2b2" stroke-width="0.7"/>
<rect x="290.50" y="13.55" width="173.15" height="172.90" fill="none" stroke="#c0c0c0" stroke-width="0.85"/>
<circle cx="310.29" cy="176.03" r="1.36" fill="#1e1ef0" fill-opacity="0.25" stroke="#1e1ef0" stroke-width="0.6" opacity="0.60"/>
<circle cx="325.13" cy="144.05" r="1.36" fill="#1e1ef0" fill-opacity="0.25" stroke="#1e1ef0" stroke-width="0.6" opacity="0.60"/>
<circle cx="335.02" cy="128.74" r="1.36" fill="#1e1ef0" fill-opacity="0.25" stroke="#1e1ef0" stroke-width="0.6" opacity="0.60"/>
<circle cx="344.92" cy="116.63" r="1.36" fill="#1e1ef0" fill-opacity="0.25" stroke="#1e1ef0" stroke-width="0.6" opacity="0.60"/>
<circle cx="354.81" cy="106.88" r="1.36" fill="#1e1ef0" fill-opacity="0.25" stroke="#1e1ef0" stroke-width="0.6" opacity="0.60"/>
<circle cx="364.71" cy="98.87" r="1.36" fill="#1e1ef0" fill-opacity="0.25" stroke="#1e1ef0" stroke-width="0.6" opacity="0.60"/>
<circle cx="374.60" cy="92.18" r="1.36" fill="#1e1ef0" fill-opacity="0.25" stroke="#1e1ef0" stroke-width="0.6" opacity="0.60"/>
<circle cx="384.50" cy="86.51" r="1.36" fill="#1e1ef0" fill-opacity="0.25" stroke="#1e1ef0" stroke-width="0.6" opacity="0.60"/>
<circle cx="394.39" cy="81.63" r="1.36" fill="#1e1ef0" fill-opacity="0.25" stroke="#1e1ef0" stroke-width="0.6" opacity="0.60"/>
<circle cx="404.28" cy="77.38" r="1.36" fill="#1e1ef0" fill-opacity="0.25" stroke="#1e1ef0" stroke-width="0.6" opacity="0.60"/>
<circle cx="414.18" cy="73.64" r="1.36" fill="#1e1ef0" fill-opacity="0.25" stroke="#1e1ef0" stroke-width="0.6" opacity="0.60"/>
<circle cx="424.07" cy="70.31" r="1.36" fill="#1e1ef0" fill-opacity="0.25" stroke="#1e1ef0" stroke-width="0.6" opacity="0.60"/>
<circle cx="433.97" cy="67.32" r="1.36" fill="#1e1ef0" fill-opacity="0.25" stroke="#1e1ef0" stroke-width="0.6" opacity="0.60"/>
<circle cx="443.86" cy="64.63" r="1.36" fill="#1e1ef0" fill-opacity="0.25" stroke="#1e1ef0" stroke-width="0.6" opacity="0.60"/>
<rect x="308.59" y="161.47" width="3.40" height="3.40" fill="none" stroke="#c82828" stroke-width="0.6" opacity="0.32"/>
<rect x="323.43" y="134.23" width="3.40" height="3.40" fill="none" stroke="#c82828" stroke-width="0.6" opacity="0.32"/>
<rect x="333.32" y="121.00" width="3.40" height="3.40" fill="none" stroke="#c82828" stroke-width="0.6" opacity="0.32"/>
<rect x="343.22" y="110.39" width="3.40" height="3.40" fill="none" stroke="#c82828" stroke-width="0.6" opacity="0.32"/>
<rect x="353.11" y="101.71" width="3.40" height="3.40" fill="none" stroke="#c82828" stroke-width="0.6" opacity="0.32"/>
<rect x="363.01" y="94.47" width="3.40" height="3.40" fill="none" stroke="#c82828" stroke-width="0.6" opacity="0.32"/>
<rect x="372.90" y="88.33" width="3.40" height="3.40" fill="none" stroke="#c82828" stroke-width="0.6" opacity="0.32"/>
<rect x="382.80" y="83.04" width="3.40" height="3.40" fill="none" stroke="#c82828" stroke-width="0.6" opacity="0.32"/>
<rect x="392.69" y="78.44" width="3.40" height="3.40" fill="none" stroke="#c82828" stroke-width="0.6" opacity="0.32"/>
<rect x="402.58" y="74.39" width="3.40" height="3.40" fill="none" stroke="#c82828" stroke-width="0.6" opacity="0.32"/>
<rect x="412.48" y="70.78" width="3.40" height="3.40" fill="none" stroke="#c82828" stroke-width="0.6" opacity="0.32"/>
<rect x="422.37" y="67.55" width="3.40" height="3.40" fill="none" stroke="#c82828" stroke-width="0.6" opacity="0.32"/>
<rect x="432.27" y="64.63" width="3.40" height="3.40" fill="none" stroke="#c82828" stroke-width="0.6" opacity="0.32"/>
<rect x="442.16" y="61.98" width="3.40" height="3.40" fill="none" stroke="#c82828" stroke-width="0.6" opacity="0.32"/>
<path d="M310.29 154.85 L312.16 158.25 L308.42 158.25 Z" fill="none" stroke="#1e783c" stroke-width="0.6" opacity="0.60"/>
<path d="M325.13 130.27 L327.00 133.67 L323.26 133.67 Z" fill="none" stroke="#1e783c" stroke-width="0.6" opacity="0.60"/>
<path d="M335.02 118.18 L336.89 121.58 L333.15 121.58 Z" fill="none" stroke="#1e783c" stroke-width="0.6" opacity="0.60"/>
<path d="M344.92 108.39 L346.79 111.79 L343.05 111.79 Z" fill="none" stroke="#1e783c" stroke-width="0.6" opacity="0.60"/>
<path d="M354.81 100.28 L356.68 103.68 L352.94 103.68 Z" fill="none" stroke="#1e783c" stroke-width="0.6" opacity="0.60"/>
<path d="M364.71 93.43 L366.58 96.83 L362.84 96.83 Z" fill="none" stroke="#1e783c" stroke-width="0.6" opacity="0.60"/>
<path d="M374.60 87.57 L376.47 90.97 L372.73 90.97 Z" fill="none" stroke="#1e783c" stroke-width="0.6" opacity="0.60"/>
<path d="M384.50 82.48 L386.37 85.88 L382.63 85.88 Z" fill="none" stroke="#1e783c" stroke-width="0.6" opacity="0.60"/>
<path d="M394.39 78.01 L396.26 81.41 L392.52 81.41 Z" fill="none" stroke="#1e783c" stroke-width="0.6" opacity="0.60"/>
<path d="M404.28 74.05 L406.15 77.45 L402.41 77.45 Z" fill="none" stroke="#1e783c" stroke-width="0.6" opacity="0.60"/>
<path d="M414.18 70.51 L416.05 73.91 L412.31 73.91 Z" fill="none" stroke="#1e783c" stroke-width="0.6" opacity="0.60"/>
<path d="M424.07 67.32 L425.94 70.72 L422.20 70.72 Z" fill="none" stroke="#1e783c" stroke-width="0.6" opacity="0.60"/>
<path d="M433.97 64.43 L435.84 67.83 L432.10 67.83 Z" fill="none" stroke="#1e783c" stroke-width="0.6" opacity="0.60"/>
<path d="M443.86 61.81 L445.73 65.21 L441.99 65.21 Z" fill="none" stroke="#1e783c" stroke-width="0.6" opacity="0.60"/>
<circle cx="310.29" cy="154.08" r="1.36" fill="#ff1e96" fill-opacity="0.25" stroke="#ff1e96" stroke-width="0.6" opacity="0.60"/>
<circle cx="325.13" cy="130.96" r="1.36" fill="#ff1e96" fill-opacity="0.25" stroke="#ff1e96" stroke-width="0.6" opacity="0.60"/>
<circle cx="335.02" cy="119.41" r="1.36" fill="#ff1e96" fill-opacity="0.25" stroke="#ff1e96" stroke-width="0.6" opacity="0.60"/>
<circle cx="344.92" cy="109.94" r="1.36" fill="#ff1e96" fill-opacity="0.25" stroke="#ff1e96" stroke-width="0.6" opacity="0.60"/>
<circle cx="354.81" cy="102.04" r="1.36" fill="#ff1e96" fill-opacity="0.25" stroke="#ff1e96" stroke-width="0.6" opacity="0.60"/>
<circle cx="364.71" cy="95.33" r="1.36" fill="#ff1e96" fill-opacity="0.25" stroke="#ff1e96" stroke-width="0.6" opacity="0.60"/>
<circle cx="374.60" cy="89.54" r="1.36" fill="#ff1e96" fill-opacity="0.25" stroke="#ff1e96" stroke-width="0.6" opacity="0.60"/>
<circle cx="384.50" cy="84.50" r="1.36" fill="#ff1e96" fill-opacity="0.25" stroke="#ff1e96" stroke-width="0.6" opacity="0.60"/>
<circle cx="394.39" cy="80.07" r="1.36" fill="#ff1e96" fill-opacity="0.25" stroke="#ff1e96" stroke-width="0.6" opacity="0.60"/>
<circle cx="404.28" cy="76.12" r="1.36" fill="#ff1e96" fill-opacity="0.25" stroke="#ff1e96" stroke-width="0.6" opacity="0.60"/>
<circle cx="414.18" cy="72.60" r="1.36" fill="#ff1e96" fill-opacity="0.25" stroke="#ff1e96" stroke-width="0.6" opacity="0.60"/>
<circle cx="424.07" cy="69.42" r="1.36" fill="#ff1e96" fill-opacity="0.25" stroke="#ff1e96" stroke-width="0.6" opacity="0.60"/>
<circle cx="433.97" cy="66.53" r="1.36" fill="#ff1e96" fill-opacity="0.25" stroke="#ff1e96" stroke-width="0.6" opacity="0.60"/>
<circle cx="443.86" cy="63.91" r="1.36" fill="#ff1e96" fill-opacity="0.25" stroke="#ff1e96" stroke-width="0.6" opacity="0.60"/>
<rect x="308.59" y="151.06" width="3.40" height="3.40" fill="none" stroke="#141414" stroke-width="0.6" opacity="0.30"/>
<rect x="323.43" y="128.63" width="3.40" height="3.40" fill="none" stroke="#141414" stroke-width="0.6" opacity="0.30"/>
<rect x="333.32" y="117.35" width="3.40" height="3.40" fill="none" stroke="#141414" stroke-width="0.6" opacity="0.30"/>
<rect x="343.22" y="108.06" width="3.40" height="3.40" fill="none" stroke="#141414" stroke-width="0.6" opacity="0.30"/>
<rect x="353.11" y="100.27" width="3.40" height="3.40" fill="none" stroke="#141414" stroke-width="0.6" opacity="0.30"/>
<rect x="363.01" y="93.63" width="3.40" height="3.40" fill="none" stroke="#141414" stroke-width="0.6" opacity="0.30"/>
<rect x="372.90" y="87.89" width="3.40" height="3.40" fill="none" stroke="#141414" stroke-width="0.6" opacity="0.30"/>
<rect x="382.80" y="82.88" width="3.40" height="3.40" fill="none" stroke="#141414" stroke-width="0.6" opacity="0.30"/>
<rect x="392.69" y="78.47" width="3.40" height="3.40" fill="none" stroke="#141414" stroke-width="0.6" opacity="0.30"/>
<rect x="402.58" y="74.54" width="3.40" height="3.40" fill="none" stroke="#141414" stroke-width="0.6" opacity="0.30"/>
<rect x="412.48" y="71.02" width="3.40" height="3.40" fill="none" stroke="#141414" stroke-width="0.6" opacity="0.30"/>
<rect x="422.37" y="67.84" width="3.40" height="3.40" fill="none" stroke="#141414" stroke-width="0.6" opacity="0.30"/>
<rect x="432.27" y="64.97" width="3.40" height="3.40" fill="none" stroke="#141414" stroke-width="0.6" opacity="0.30"/>
<rect x="442.16" y="62.34" width="3.40" height="3.40" fill="none" stroke="#141414" stroke-width="0.6" opacity="0.30"/>
<circle cx="310.29" cy="151.63" r="1.36" fill="#8228f0" fill-opacity="0.25" stroke="#8228f0" stroke-width="0.6" opacity="0.40"/>
<circle cx="325.13" cy="129.86" r="1.36" fill="#8228f0" fill-opacity="0.25" stroke="#8228f0" stroke-width="0.6" opacity="0.40"/>
<circle cx="335.02" cy="118.83" r="1.36" fill="#8228f0" fill-opacity="0.25" stroke="#8228f0" stroke-width="0.6" opacity="0.40"/>
<circle cx="344.92" cy="109.71" r="1.36" fill="#8228f0" fill-opacity="0.25" stroke="#8228f0" stroke-width="0.6" opacity="0.40"/>
<circle cx="354.81" cy="102.03" r="1.36" fill="#8228f0" fill-opacity="0.25" stroke="#8228f0" stroke-width="0.6" opacity="0.40"/>
<circle cx="364.71" cy="95.46" r="1.36" fill="#8228f0" fill-opacity="0.25" stroke="#8228f0" stroke-width="0.6" opacity="0.40"/>
<circle cx="374.60" cy="89.77" r="1.36" fill="#8228f0" fill-opacity="0.25" stroke="#8228f0" stroke-width="0.6" opacity="0.40"/>
<circle cx="384.50" cy="84.79" r="1.36" fill="#8228f0" fill-opacity="0.25" stroke="#8228f0" stroke-width="0.6" opacity="0.40"/>
<circle cx="394.39" cy="80.40" r="1.36" fill="#8228f0" fill-opacity="0.25" stroke="#8228f0" stroke-width="0.6" opacity="0.40"/>
<circle cx="404.28" cy="76.48" r="1.36" fill="#8228f0" fill-opacity="0.25" stroke="#8228f0" stroke-width="0.6" opacity="0.40"/>
<circle cx="414.18" cy="72.97" r="1.36" fill="#8228f0" fill-opacity="0.25" stroke="#8228f0" stroke-width="0.6" opacity="0.40"/>
<circle cx="424.07" cy="69.80" r="1.36" fill="#8228f0" fill-opacity="0.25" stroke="#8228f0" stroke-width="0.6" opacity="0.40"/>
<circle cx="433.97" cy="66.93" r="1.36" fill="#8228f0" fill-opacity="0.25" stroke="#8228f0" stroke-width="0.6" opacity="0.40"/>
<circle cx="443.86" cy="64.31" r="1.36" fill="#8228f0" fill-opacity="0.25" stroke="#8228f0" stroke-width="0.6" opacity="0.40"/>
<path d="M290.50 248.73 L291.12 245.65 L291.74 242.63 L292.36 239.67 L292.97 236.79 L293.59 233.96 L294.21 231.19 L294.83 228.49 L295.45 225.84 L296.07 223.25 L296.68 220.71 L297.30 218.22 L297.92 215.79 L298.54 213.40 L299.16 211.07 L299.78 208.78 L300.39 206.53 L301.01 204.34 L301.63 202.18 L302.25 200.07 L302.87 198.00 L303.49 195.97 L304.10 193.98 L304.72 192.03 L305.34 190.11 L305.96 188.23 L306.58 186.39 L307.20 184.58 L307.81 182.81 L308.43 181.06 L309.05 179.35 L309.67 177.68 L310.29 176.03 L310.91 174.41 L311.53 172.82 L312.14 171.26 L312.76 169.73 L313.38 168.23 L314.00 166.75 L314.62 165.29 L315.24 163.87 L315.85 162.47 L316.47 161.09 L317.09 159.73 L317.71 158.40 L318.33 157.09 L318.95 155.81 L319.56 154.54 L320.18 153.30 L320.80 152.07 L321.42 150.87 L322.04 149.69 L322.66 148.52 L323.27 147.38 L323.89 146.25 L324.51 145.14 L325.13 144.05 L325.75 142.98 L326.37 141.93 L326.99 140.89 L327.60 139.86 L328.22 138.85 L328.84 137.86 L329.46 136.89 L330.08 135.93 L330.70 134.98 L331.31 134.05 L331.93 133.13 L332.55 132.22 L333.17 131.33 L333.79 130.45 L334.41 129.59 L335.02 128.74 L335.64 127.90 L336.26 127.07 L336.88 126.25 L337.50 125.45 L338.12 124.66 L338.73 123.87 L339.35 123.10 L339.97 122.34 L340.59 121.60 L341.21 120.86 L341.83 120.13 L342.44 119.41 L343.06 118.70 L343.68 118.00 L344.30 117.31 L344.92 116.63 L345.54 115.96 L346.16 115.30 L346.77 114.65 L347.39 114.00 L348.01 113.37 L348.63 112.74 L349.25 112.12 L349.87 111.51 L350.48 110.90 L351.10 110.31 L351.72 109.72 L352.34 109.13 L352.96 108.56 L353.58 107.99 L354.19 107.43 L354.81 106.88 L355.43 106.33 L356.05 105.79 L356.67 105.26 L357.29 104.73 L357.90 104.21 L358.52 103.70 L359.14 103.19 L359.76 102.69 L360.38 102.19 L361.00 101.70 L361.62 101.22 L362.23 100.74 L362.85 100.26 L363.47 99.79 L364.09 99.33 L364.71 98.87 L365.33 98.42 L365.94 97.97 L366.56 97.53 L367.18 97.09 L367.80 96.66 L368.42 96.23 L369.04 95.80 L369.65 95.38 L370.27 94.97 L370.89 94.56 L371.51 94.15 L372.13 93.75 L372.75 93.35 L373.36 92.96 L373.98 92.57 L374.60 92.18 L375.22 91.80 L375.84 91.43 L376.46 91.05 L377.07 90.68 L377.69 90.31 L378.31 89.95 L378.93 89.59 L379.55 89.24 L380.17 88.88 L380.79 88.54 L381.40 88.19 L382.02 87.85 L382.64 87.51 L383.26 87.17 L383.88 86.84 L384.50 86.51 L385.11 86.19 L385.73 85.86 L386.35 85.54 L386.97 85.23 L387.59 84.91 L388.21 84.60 L388.82 84.29 L389.44 83.98 L390.06 83.68 L390.68 83.38 L391.30 83.08 L391.92 82.79 L392.53 82.50 L393.15 82.21 L393.77 81.92 L394.39 81.63 L395.01 81.35 L395.63 81.07 L396.25 80.79 L396.86 80.52 L397.48 80.24 L398.10 79.97 L398.72 79.70 L399.34 79.44 L399.96 79.17 L400.57 78.91 L401.19 78.65 L401.81 78.39 L402.43 78.14 L403.05 77.88 L403.67 77.63 L404.28 77.38 L404.90 77.14 L405.52 76.89 L406.14 76.65 L406.76 76.40 L407.38 76.16 L407.99 75.93 L408.61 75.69 L409.23 75.45 L409.85 75.22 L410.47 74.99 L411.09 74.76 L411.70 74.53 L412.32 74.31 L412.94 74.08 L413.56 73.86 L414.18 73.64 L414.80 73.42 L415.42 73.20 L416.03 72.99 L416.65 72.77 L417.27 72.56 L417.89 72.35 L418.51 72.14 L419.13 71.93 L419.74 71.72 L420.36 71.52 L420.98 71.31 L421.60 71.11 L422.22 70.91 L422.84 70.71 L423.45 70.51 L424.07 70.31 L424.69 70.11 L425.31 69.92 L425.93 69.73 L426.55 69.53 L427.16 69.34 L427.78 69.15 L428.40 68.97 L429.02 68.78 L429.64 68.59 L430.26 68.41 L430.88 68.22 L431.49 68.04 L432.11 67.86 L432.73 67.68 L433.35 67.50 L433.97 67.32 L434.59 67.15 L435.20 66.97 L435.82 66.80 L436.44 66.63 L437.06 66.45 L437.68 66.28 L438.30 66.11 L438.91 65.94 L439.53 65.77 L440.15 65.61 L440.77 65.44 L441.39 65.28 L442.01 65.11 L442.62 64.95 L443.24 64.79 L443.86 64.63 L444.48 64.47 L445.10 64.31 L445.72 64.15 L446.34 63.99 L446.95 63.84 L447.57 63.68 L448.19 63.52 L448.81 63.37 L449.43 63.22 L450.05 63.07 L450.66 62.92 L451.28 62.76 L451.90 62.62 L452.52 62.47 L453.14 62.32 L453.76 62.17 L454.37 62.03 L454.99 61.88 L455.61 61.74 L456.23 61.59 L456.85 61.45 L457.47 61.31 L458.08 61.17 L458.70 61.03 L459.32 60.89 L459.94 60.75 L460.56 60.61 L461.18 60.47 L461.79 60.33 L462.41 60.20 L463.03 60.06 L463.65 59.93" fill="none" stroke="#1e1ef0" stroke-width="1.10" stroke-linejoin="round" clip-path="url(#cb)"/>
<path d="M290.50 224.68 L291.12 222.06 L291.74 219.50 L292.36 216.99 L292.97 214.55 L293.59 212.15 L294.21 209.81 L294.83 207.52 L295.45 205.28 L296.07 203.09 L296.68 200.94 L297.30 198.84 L297.92 196.78 L298.54 194.77 L299.16 192.79 L299.78 190.86 L300.39 188.96 L301.01 187.11 L301.63 185.29 L302.25 183.50 L302.87 181.75 L303.49 180.04 L304.10 178.35 L304.72 176.70 L305.34 175.08 L305.96 173.50 L306.58 171.94 L307.20 170.41 L307.81 168.91 L308.43 167.43 L309.05 165.98 L309.67 164.56 L310.29 163.17 L310.91 161.80 L311.53 160.45 L312.14 159.13 L312.76 157.83 L313.38 156.55 L314.00 155.30 L314.62 154.06 L315.24 152.85 L315.85 151.66 L316.47 150.48 L317.09 149.33 L317.71 148.20 L318.33 147.08 L318.95 145.99 L319.56 144.91 L320.18 143.85 L320.80 142.80 L321.42 141.77 L322.04 140.76 L322.66 139.76 L323.27 138.78 L323.89 137.82 L324.51 136.87 L325.13 135.93 L325.75 135.01 L326.37 134.10 L326.99 133.21 L327.60 132.33 L328.22 131.46 L328.84 130.60 L329.46 129.76 L330.08 128.93 L330.70 128.11 L331.31 127.31 L331.93 126.51 L332.55 125.73 L333.17 124.95 L333.79 124.19 L334.41 123.44 L335.02 122.70 L335.64 121.97 L336.26 121.25 L336.88 120.53 L337.50 119.83 L338.12 119.14 L338.73 118.46 L339.35 117.78 L339.97 117.12 L340.59 116.46 L341.21 115.81 L341.83 115.17 L342.44 114.54 L343.06 113.92 L343.68 113.30 L344.30 112.69 L344.92 112.09 L345.54 111.50 L346.16 110.91 L346.77 110.34 L347.39 109.76 L348.01 109.20 L348.63 108.64 L349.25 108.09 L349.87 107.55 L350.48 107.01 L351.10 106.48 L351.72 105.95 L352.34 105.43 L352.96 104.92 L353.58 104.41 L354.19 103.91 L354.81 103.41 L355.43 102.92 L356.05 102.44 L356.67 101.96 L357.29 101.48 L357.90 101.01 L358.52 100.55 L359.14 100.09 L359.76 99.63 L360.38 99.19 L361.00 98.74 L361.62 98.30 L362.23 97.87 L362.85 97.44 L363.47 97.01 L364.09 96.59 L364.71 96.17 L365.33 95.76 L365.94 95.35 L366.56 94.94 L367.18 94.54 L367.80 94.15 L368.42 93.75 L369.04 93.36 L369.65 92.98 L370.27 92.60 L370.89 92.22 L371.51 91.85 L372.13 91.48 L372.75 91.11 L373.36 90.75 L373.98 90.39 L374.60 90.03 L375.22 89.68 L375.84 89.33 L376.46 88.98 L377.07 88.64 L377.69 88.29 L378.31 87.96 L378.93 87.62 L379.55 87.29 L380.17 86.96 L380.79 86.64 L381.40 86.32 L382.02 86.00 L382.64 85.68 L383.26 85.37 L383.88 85.05 L384.50 84.74 L385.11 84.44 L385.73 84.14 L386.35 83.83 L386.97 83.54 L387.59 83.24 L388.21 82.95 L388.82 82.66 L389.44 82.37 L390.06 82.08 L390.68 81.80 L391.30 81.52 L391.92 81.24 L392.53 80.96 L393.15 80.68 L393.77 80.41 L394.39 80.14 L395.01 79.87 L395.63 79.61 L396.25 79.34 L396.86 79.08 L397.48 78.82 L398.10 78.56 L398.72 78.31 L399.34 78.05 L399.96 77.80 L400.57 77.55 L401.19 77.30 L401.81 77.06 L402.43 76.81 L403.05 76.57 L403.67 76.33 L404.28 76.09 L404.90 75.85 L405.52 75.61 L406.14 75.38 L406.76 75.15 L407.38 74.92 L407.99 74.69 L408.61 74.46 L409.23 74.23 L409.85 74.01 L410.47 73.79 L411.09 73.57 L411.70 73.35 L412.32 73.13 L412.94 72.91 L413.56 72.70 L414.18 72.48 L414.80 72.27 L415.42 72.06 L416.03 71.85 L416.65 71.64 L417.27 71.44 L417.89 71.23 L418.51 71.03 L419.13 70.82 L419.74 70.62 L420.36 70.42 L420.98 70.22 L421.60 70.03 L422.22 69.83 L422.84 69.64 L423.45 69.44 L424.07 69.25 L424.69 69.06 L425.31 68.87 L425.93 68.68 L426.55 68.49 L427.16 68.31 L427.78 68.12 L428.40 67.94 L429.02 67.76 L429.64 67.57 L430.26 67.39 L430.88 67.21 L431.49 67.04 L432.11 66.86 L432.73 66.68 L433.35 66.51 L433.97 66.33 L434.59 66.16 L435.20 65.99 L435.82 65.82 L436.44 65.65 L437.06 65.48 L437.68 65.31 L438.30 65.14 L438.91 64.98 L439.53 64.81 L440.15 64.65 L440.77 64.49 L441.39 64.32 L442.01 64.16 L442.62 64.00 L443.24 63.84 L443.86 63.68 L444.48 63.53 L445.10 63.37 L445.72 63.21 L446.34 63.06 L446.95 62.90 L447.57 62.75 L448.19 62.60 L448.81 62.45 L449.43 62.30 L450.05 62.15 L450.66 62.00 L451.28 61.85 L451.90 61.70 L452.52 61.55 L453.14 61.41 L453.76 61.26 L454.37 61.12 L454.99 60.98 L455.61 60.83 L456.23 60.69 L456.85 60.55 L457.47 60.41 L458.08 60.27 L458.70 60.13 L459.32 59.99 L459.94 59.85 L460.56 59.72 L461.18 59.58 L461.79 59.44 L462.41 59.31 L463.03 59.18 L463.65 59.04" fill="none" stroke="#c82828" stroke-width="1.10" stroke-linejoin="round" clip-path="url(#cb)"/>
<path d="M290.50 212.06 L291.12 209.71 L291.74 207.40 L292.36 205.16 L292.97 202.96 L293.59 200.81 L294.21 198.71 L294.83 196.66 L295.45 194.65 L296.07 192.68 L296.68 190.76 L297.30 188.87 L297.92 187.03 L298.54 185.22 L299.16 183.45 L299.78 181.72 L300.39 180.02 L301.01 178.36 L301.63 176.73 L302.25 175.13 L302.87 173.56 L303.49 172.02 L304.10 170.51 L304.72 169.03 L305.34 167.58 L305.96 166.16 L306.58 164.76 L307.20 163.39 L307.81 162.04 L308.43 160.72 L309.05 159.42 L309.67 158.14 L310.29 156.89 L310.91 155.66 L311.53 154.45 L312.14 153.26 L312.76 152.09 L313.38 150.94 L314.00 149.81 L314.62 148.70 L315.24 147.61 L315.85 146.53 L316.47 145.48 L317.09 144.44 L317.71 143.41 L318.33 142.41 L318.95 141.42 L319.56 140.44 L320.18 139.48 L320.80 138.54 L321.42 137.61 L322.04 136.69 L322.66 135.79 L323.27 134.90 L323.89 134.02 L324.51 133.16 L325.13 132.31 L325.75 131.47 L326.37 130.65 L326.99 129.83 L327.60 129.03 L328.22 128.24 L328.84 127.46 L329.46 126.69 L330.08 125.93 L330.70 125.18 L331.31 124.45 L331.93 123.72 L332.55 123.00 L333.17 122.29 L333.79 121.59 L334.41 120.90 L335.02 120.22 L335.64 119.55 L336.26 118.89 L336.88 118.23 L337.50 117.59 L338.12 116.95 L338.73 116.32 L339.35 115.70 L339.97 115.08 L340.59 114.48 L341.21 113.88 L341.83 113.29 L342.44 112.70 L343.06 112.12 L343.68 111.55 L344.30 110.99 L344.92 110.43 L345.54 109.88 L346.16 109.33 L346.77 108.80 L347.39 108.26 L348.01 107.74 L348.63 107.22 L349.25 106.70 L349.87 106.19 L350.48 105.69 L351.10 105.19 L351.72 104.70 L352.34 104.21 L352.96 103.73 L353.58 103.26 L354.19 102.78 L354.81 102.32 L355.43 101.86 L356.05 101.40 L356.67 100.95 L357.29 100.50 L357.90 100.06 L358.52 99.62 L359.14 99.19 L359.76 98.76 L360.38 98.33 L361.00 97.91 L361.62 97.50 L362.23 97.08 L362.85 96.68 L363.47 96.27 L364.09 95.87 L364.71 95.47 L365.33 95.08 L365.94 94.69 L366.56 94.31 L367.18 93.93 L367.80 93.55 L368.42 93.17 L369.04 92.80 L369.65 92.44 L370.27 92.07 L370.89 91.71 L371.51 91.35 L372.13 91.00 L372.75 90.65 L373.36 90.30 L373.98 89.95 L374.60 89.61 L375.22 89.27 L375.84 88.94 L376.46 88.60 L377.07 88.27 L377.69 87.95 L378.31 87.62 L378.93 87.30 L379.55 86.98 L380.17 86.66 L380.79 86.35 L381.40 86.04 L382.02 85.73 L382.64 85.42 L383.26 85.12 L383.88 84.82 L384.50 84.52 L385.11 84.22 L385.73 83.93 L386.35 83.64 L386.97 83.35 L387.59 83.06 L388.21 82.78 L388.82 82.50 L389.44 82.22 L390.06 81.94 L390.68 81.66 L391.30 81.39 L391.92 81.12 L392.53 80.85 L393.15 80.58 L393.77 80.31 L394.39 80.05 L395.01 79.79 L395.63 79.53 L396.25 79.27 L396.86 79.02 L397.48 78.76 L398.10 78.51 L398.72 78.26 L399.34 78.01 L399.96 77.77 L400.57 77.52 L401.19 77.28 L401.81 77.04 L402.43 76.80 L403.05 76.56 L403.67 76.32 L404.28 76.09 L404.90 75.86 L405.52 75.63 L406.14 75.40 L406.76 75.17 L407.38 74.94 L407.99 74.72 L408.61 74.49 L409.23 74.27 L409.85 74.05 L410.47 73.83 L411.09 73.61 L411.70 73.40 L412.32 73.18 L412.94 72.97 L413.56 72.76 L414.18 72.55 L414.80 72.34 L415.42 72.13 L416.03 71.93 L416.65 71.72 L417.27 71.52 L417.89 71.32 L418.51 71.11 L419.13 70.91 L419.74 70.72 L420.36 70.52 L420.98 70.32 L421.60 70.13 L422.22 69.93 L422.84 69.74 L423.45 69.55 L424.07 69.36 L424.69 69.17 L425.31 68.99 L425.93 68.80 L426.55 68.61 L427.16 68.43 L427.78 68.25 L428.40 68.06 L429.02 67.88 L429.64 67.70 L430.26 67.52 L430.88 67.35 L431.49 67.17 L432.11 67.00 L432.73 66.82 L433.35 66.65 L433.97 66.47 L434.59 66.30 L435.20 66.13 L435.82 65.96 L436.44 65.79 L437.06 65.63 L437.68 65.46 L438.30 65.29 L438.91 65.13 L439.53 64.97 L440.15 64.80 L440.77 64.64 L441.39 64.48 L442.01 64.32 L442.62 64.16 L443.24 64.00 L443.86 63.85 L444.48 63.69 L445.10 63.53 L445.72 63.38 L446.34 63.22 L446.95 63.07 L447.57 62.92 L448.19 62.77 L448.81 62.62 L449.43 62.47 L450.05 62.32 L450.66 62.17 L451.28 62.02 L451.90 61.87 L452.52 61.73 L453.14 61.58 L453.76 61.44 L454.37 61.30 L454.99 61.15 L455.61 61.01 L456.23 60.87 L456.85 60.73 L457.47 60.59 L458.08 60.45 L458.70 60.31 L459.32 60.17 L459.94 60.04 L460.56 59.90 L461.18 59.76 L461.79 59.63 L462.41 59.49 L463.03 59.36 L463.65 59.23" fill="none" stroke="#1e783c" stroke-width="1.10" stroke-linejoin="round" clip-path="url(#cb)"/>
<path d="M290.50 204.75 L291.12 202.61 L291.74 200.52 L292.36 198.47 L292.97 196.47 L293.59 194.51 L294.21 192.60 L294.83 190.72 L295.45 188.89 L296.07 187.09 L296.68 185.33 L297.30 183.60 L297.92 181.91 L298.54 180.26 L299.16 178.64 L299.78 177.04 L300.39 175.48 L301.01 173.95 L301.63 172.45 L302.25 170.98 L302.87 169.53 L303.49 168.11 L304.10 166.72 L304.72 165.35 L305.34 164.01 L305.96 162.69 L306.58 161.40 L307.20 160.13 L307.81 158.88 L308.43 157.65 L309.05 156.44 L309.67 155.25 L310.29 154.08 L310.91 152.94 L311.53 151.81 L312.14 150.70 L312.76 149.60 L313.38 148.53 L314.00 147.47 L314.62 146.43 L315.24 145.41 L315.85 144.40 L316.47 143.40 L317.09 142.43 L317.71 141.46 L318.33 140.52 L318.95 139.58 L319.56 138.66 L320.18 137.76 L320.80 136.86 L321.42 135.98 L322.04 135.11 L322.66 134.26 L323.27 133.42 L323.89 132.59 L324.51 131.77 L325.13 130.96 L325.75 130.16 L326.37 129.38 L326.99 128.60 L327.60 127.84 L328.22 127.08 L328.84 126.34 L329.46 125.60 L330.08 124.88 L330.70 124.16 L331.31 123.46 L331.93 122.76 L332.55 122.07 L333.17 121.39 L333.79 120.72 L334.41 120.06 L335.02 119.41 L335.64 118.76 L336.26 118.12 L336.88 117.49 L337.50 116.87 L338.12 116.25 L338.73 115.65 L339.35 115.05 L339.97 114.45 L340.59 113.87 L341.21 113.29 L341.83 112.71 L342.44 112.15 L343.06 111.59 L343.68 111.03 L344.30 110.49 L344.92 109.94 L345.54 109.41 L346.16 108.88 L346.77 108.36 L347.39 107.84 L348.01 107.33 L348.63 106.82 L349.25 106.32 L349.87 105.82 L350.48 105.33 L351.10 104.85 L351.72 104.37 L352.34 103.89 L352.96 103.42 L353.58 102.96 L354.19 102.50 L354.81 102.04 L355.43 101.59 L356.05 101.14 L356.67 100.70 L357.29 100.26 L357.90 99.83 L358.52 99.40 L359.14 98.97 L359.76 98.55 L360.38 98.14 L361.00 97.72 L361.62 97.31 L362.23 96.91 L362.85 96.51 L363.47 96.11 L364.09 95.72 L364.71 95.33 L365.33 94.94 L365.94 94.56 L366.56 94.18 L367.18 93.80 L367.80 93.43 L368.42 93.06 L369.04 92.70 L369.65 92.33 L370.27 91.97 L370.89 91.62 L371.51 91.26 L372.13 90.91 L372.75 90.57 L373.36 90.22 L373.98 89.88 L374.60 89.54 L375.22 89.21 L375.84 88.88 L376.46 88.55 L377.07 88.22 L377.69 87.90 L378.31 87.58 L378.93 87.26 L379.55 86.94 L380.17 86.63 L380.79 86.32 L381.40 86.01 L382.02 85.70 L382.64 85.40 L383.26 85.10 L383.88 84.80 L384.50 84.50 L385.11 84.21 L385.73 83.92 L386.35 83.63 L386.97 83.34 L387.59 83.06 L388.21 82.78 L388.82 82.50 L389.44 82.22 L390.06 81.94 L390.68 81.67 L391.30 81.40 L391.92 81.13 L392.53 80.86 L393.15 80.59 L393.77 80.33 L394.39 80.07 L395.01 79.81 L395.63 79.55 L396.25 79.29 L396.86 79.04 L397.48 78.79 L398.10 78.54 L398.72 78.29 L399.34 78.04 L399.96 77.79 L400.57 77.55 L401.19 77.31 L401.81 77.07 L402.43 76.83 L403.05 76.59 L403.67 76.36 L404.28 76.12 L404.90 75.89 L405.52 75.66 L406.14 75.43 L406.76 75.21 L407.38 74.98 L407.99 74.76 L408.61 74.53 L409.23 74.31 L409.85 74.09 L410.47 73.88 L411.09 73.66 L411.70 73.44 L412.32 73.23 L412.94 73.02 L413.56 72.81 L414.18 72.60 L414.80 72.39 L415.42 72.18 L416.03 71.98 L416.65 71.77 L417.27 71.57 L417.89 71.37 L418.51 71.17 L419.13 70.97 L419.74 70.77 L420.36 70.57 L420.98 70.38 L421.60 70.18 L422.22 69.99 L422.84 69.80 L423.45 69.61 L424.07 69.42 L424.69 69.23 L425.31 69.04 L425.93 68.86 L426.55 68.67 L427.16 68.49 L427.78 68.30 L428.40 68.12 L429.02 67.94 L429.64 67.76 L430.26 67.58 L430.88 67.41 L431.49 67.23 L432.11 67.05 L432.73 66.88 L433.35 66.71 L433.97 66.53 L434.59 66.36 L435.20 66.19 L435.82 66.02 L436.44 65.86 L437.06 65.69 L437.68 65.52 L438.30 65.36 L438.91 65.19 L439.53 65.03 L440.15 64.87 L440.77 64.70 L441.39 64.54 L442.01 64.38 L442.62 64.22 L443.24 64.07 L443.86 63.91 L444.48 63.75 L445.10 63.60 L445.72 63.44 L446.34 63.29 L446.95 63.14 L447.57 62.98 L448.19 62.83 L448.81 62.68 L449.43 62.53 L450.05 62.38 L450.66 62.23 L451.28 62.09 L451.90 61.94 L452.52 61.79 L453.14 61.65 L453.76 61.50 L454.37 61.36 L454.99 61.22 L455.61 61.08 L456.23 60.94 L456.85 60.79 L457.47 60.65 L458.08 60.52 L458.70 60.38 L459.32 60.24 L459.94 60.10 L460.56 59.97 L461.18 59.83 L461.79 59.70 L462.41 59.56 L463.03 59.43 L463.65 59.29" fill="none" stroke="#ff1e96" stroke-width="1.10" stroke-linejoin="round" clip-path="url(#cb)"/>
<path d="M290.50 198.36 L291.12 196.40 L291.74 194.48 L292.36 192.61 L292.97 190.78 L293.59 188.98 L294.21 187.22 L294.83 185.50 L295.45 183.82 L296.07 182.17 L296.68 180.55 L297.30 178.96 L297.92 177.41 L298.54 175.88 L299.16 174.39 L299.78 172.92 L300.39 171.48 L301.01 170.07 L301.63 168.68 L302.25 167.32 L302.87 165.98 L303.49 164.67 L304.10 163.38 L304.72 162.11 L305.34 160.87 L305.96 159.64 L306.58 158.44 L307.20 157.26 L307.81 156.09 L308.43 154.95 L309.05 153.82 L309.67 152.72 L310.29 151.63 L310.91 150.55 L311.53 149.50 L312.14 148.46 L312.76 147.44 L313.38 146.43 L314.00 145.44 L314.62 144.46 L315.24 143.50 L315.85 142.56 L316.47 141.62 L317.09 140.70 L317.71 139.80 L318.33 138.90 L318.95 138.02 L319.56 137.15 L320.18 136.30 L320.80 135.45 L321.42 134.62 L322.04 133.80 L322.66 132.99 L323.27 132.19 L323.89 131.41 L324.51 130.63 L325.13 129.86 L325.75 129.10 L326.37 128.36 L326.99 127.62 L327.60 126.89 L328.22 126.17 L328.84 125.46 L329.46 124.76 L330.08 124.07 L330.70 123.39 L331.31 122.71 L331.93 122.05 L332.55 121.39 L333.17 120.74 L333.79 120.09 L334.41 119.46 L335.02 118.83 L335.64 118.21 L336.26 117.60 L336.88 116.99 L337.50 116.39 L338.12 115.80 L338.73 115.22 L339.35 114.64 L339.97 114.07 L340.59 113.50 L341.21 112.94 L341.83 112.39 L342.44 111.84 L343.06 111.30 L343.68 110.76 L344.30 110.23 L344.92 109.71 L345.54 109.19 L346.16 108.68 L346.77 108.17 L347.39 107.67 L348.01 107.17 L348.63 106.68 L349.25 106.19 L349.87 105.71 L350.48 105.23 L351.10 104.76 L351.72 104.29 L352.34 103.83 L352.96 103.37 L353.58 102.92 L354.19 102.47 L354.81 102.03 L355.43 101.59 L356.05 101.15 L356.67 100.72 L357.29 100.29 L357.90 99.87 L358.52 99.45 L359.14 99.03 L359.76 98.62 L360.38 98.21 L361.00 97.81 L361.62 97.41 L362.23 97.01 L362.85 96.62 L363.47 96.23 L364.09 95.84 L364.71 95.46 L365.33 95.08 L365.94 94.70 L366.56 94.33 L367.18 93.96 L367.80 93.59 L368.42 93.23 L369.04 92.87 L369.65 92.52 L370.27 92.16 L370.89 91.81 L371.51 91.46 L372.13 91.12 L372.75 90.78 L373.36 90.44 L373.98 90.10 L374.60 89.77 L375.22 89.44 L375.84 89.11 L376.46 88.79 L377.07 88.46 L377.69 88.15 L378.31 87.83 L378.93 87.51 L379.55 87.20 L380.17 86.89 L380.79 86.59 L381.40 86.28 L382.02 85.98 L382.64 85.68 L383.26 85.38 L383.88 85.09 L384.50 84.79 L385.11 84.50 L385.73 84.21 L386.35 83.93 L386.97 83.64 L387.59 83.36 L388.21 83.08 L388.82 82.80 L389.44 82.53 L390.06 82.26 L390.68 81.98 L391.30 81.71 L391.92 81.45 L392.53 81.18 L393.15 80.92 L393.77 80.66 L394.39 80.40 L395.01 80.14 L395.63 79.88 L396.25 79.63 L396.86 79.38 L397.48 79.13 L398.10 78.88 L398.72 78.63 L399.34 78.38 L399.96 78.14 L400.57 77.90 L401.19 77.66 L401.81 77.42 L402.43 77.18 L403.05 76.95 L403.67 76.71 L404.28 76.48 L404.90 76.25 L405.52 76.02 L406.14 75.80 L406.76 75.57 L407.38 75.34 L407.99 75.12 L408.61 74.90 L409.23 74.68 L409.85 74.46 L410.47 74.24 L411.09 74.03 L411.70 73.82 L412.32 73.60 L412.94 73.39 L413.56 73.18 L414.18 72.97 L414.80 72.76 L415.42 72.56 L416.03 72.35 L416.65 72.15 L417.27 71.95 L417.89 71.75 L418.51 71.55 L419.13 71.35 L419.74 71.15 L420.36 70.96 L420.98 70.76 L421.60 70.57 L422.22 70.37 L422.84 70.18 L423.45 69.99 L424.07 69.80 L424.69 69.62 L425.31 69.43 L425.93 69.24 L426.55 69.06 L427.16 68.88 L427.78 68.70 L428.40 68.51 L429.02 68.33 L429.64 68.15 L430.26 67.98 L430.88 67.80 L431.49 67.62 L432.11 67.45 L432.73 67.28 L433.35 67.10 L433.97 66.93 L434.59 66.76 L435.20 66.59 L435.82 66.42 L436.44 66.25 L437.06 66.09 L437.68 65.92 L438.30 65.76 L438.91 65.59 L439.53 65.43 L440.15 65.27 L440.77 65.10 L441.39 64.94 L442.01 64.78 L442.62 64.63 L443.24 64.47 L443.86 64.31 L444.48 64.15 L445.10 64.00 L445.72 63.84 L446.34 63.69 L446.95 63.54 L447.57 63.39 L448.19 63.24 L448.81 63.08 L449.43 62.94 L450.05 62.79 L450.66 62.64 L451.28 62.49 L451.90 62.35 L452.52 62.20 L453.14 62.05 L453.76 61.91 L454.37 61.77 L454.99 61.62 L455.61 61.48 L456.23 61.34 L456.85 61.20 L457.47 61.06 L458.08 60.92 L458.70 60.78 L459.32 60.65 L459.94 60.51 L460.56 60.37 L461.18 60.24 L461.79 60.10 L462.41 59.97 L463.03 59.84 L463.65 59.70" fill="none" stroke="#8228f0" stroke-width="1.10" stroke-linejoin="round" clip-path="url(#cb)"/>
<path d="M290.50 201.38 L291.12 199.34 L291.74 197.34 L292.36 195.38 L292.97 193.47 L293.59 191.59 L294.21 189.76 L294.83 187.97 L295.45 186.21 L296.07 184.49 L296.68 182.80 L297.30 181.15 L297.92 179.53 L298.54 177.94 L299.16 176.38 L299.78 174.86 L300.39 173.36 L301.01 171.89 L301.63 170.45 L302.25 169.03 L302.87 167.64 L303.49 166.28 L304.10 164.94 L304.72 163.62 L305.34 162.33 L305.96 161.06 L306.58 159.81 L307.20 158.59 L307.81 157.38 L308.43 156.20 L309.05 155.03 L309.67 153.88 L310.29 152.76 L310.91 151.65 L311.53 150.56 L312.14 149.48 L312.76 148.43 L313.38 147.39 L314.00 146.36 L314.62 145.36 L315.24 144.37 L315.85 143.39 L316.47 142.43 L317.09 141.48 L317.71 140.54 L318.33 139.62 L318.95 138.72 L319.56 137.82 L320.18 136.94 L320.80 136.08 L321.42 135.22 L322.04 134.38 L322.66 133.55 L323.27 132.73 L323.89 131.92 L324.51 131.12 L325.13 130.33 L325.75 129.56 L326.37 128.79 L326.99 128.03 L327.60 127.29 L328.22 126.55 L328.84 125.83 L329.46 125.11 L330.08 124.40 L330.70 123.70 L331.31 123.01 L331.93 122.33 L332.55 121.66 L333.17 120.99 L333.79 120.34 L334.41 119.69 L335.02 119.05 L335.64 118.41 L336.26 117.79 L336.88 117.17 L337.50 116.56 L338.12 115.96 L338.73 115.36 L339.35 114.77 L339.97 114.19 L340.59 113.61 L341.21 113.04 L341.83 112.48 L342.44 111.92 L343.06 111.37 L343.68 110.83 L344.30 110.29 L344.92 109.76 L345.54 109.23 L346.16 108.71 L346.77 108.20 L347.39 107.69 L348.01 107.18 L348.63 106.68 L349.25 106.19 L349.87 105.70 L350.48 105.22 L351.10 104.74 L351.72 104.26 L352.34 103.80 L352.96 103.33 L353.58 102.87 L354.19 102.42 L354.81 101.97 L355.43 101.52 L356.05 101.08 L356.67 100.64 L357.29 100.21 L357.90 99.78 L358.52 99.36 L359.14 98.94 L359.76 98.52 L360.38 98.11 L361.00 97.70 L361.62 97.29 L362.23 96.89 L362.85 96.50 L363.47 96.10 L364.09 95.71 L364.71 95.33 L365.33 94.94 L365.94 94.56 L366.56 94.19 L367.18 93.82 L367.80 93.45 L368.42 93.08 L369.04 92.72 L369.65 92.36 L370.27 92.00 L370.89 91.65 L371.51 91.30 L372.13 90.95 L372.75 90.61 L373.36 90.27 L373.98 89.93 L374.60 89.59 L375.22 89.26 L375.84 88.93 L376.46 88.60 L377.07 88.28 L377.69 87.96 L378.31 87.64 L378.93 87.32 L379.55 87.01 L380.17 86.69 L380.79 86.39 L381.40 86.08 L382.02 85.77 L382.64 85.47 L383.26 85.17 L383.88 84.88 L384.50 84.58 L385.11 84.29 L385.73 84.00 L386.35 83.71 L386.97 83.43 L387.59 83.14 L388.21 82.86 L388.82 82.58 L389.44 82.31 L390.06 82.03 L390.68 81.76 L391.30 81.49 L391.92 81.22 L392.53 80.95 L393.15 80.69 L393.77 80.43 L394.39 80.17 L395.01 79.91 L395.63 79.65 L396.25 79.39 L396.86 79.14 L397.48 78.89 L398.10 78.64 L398.72 78.39 L399.34 78.15 L399.96 77.90 L400.57 77.66 L401.19 77.42 L401.81 77.18 L402.43 76.94 L403.05 76.70 L403.67 76.47 L404.28 76.24 L404.90 76.01 L405.52 75.78 L406.14 75.55 L406.76 75.32 L407.38 75.10 L407.99 74.87 L408.61 74.65 L409.23 74.43 L409.85 74.21 L410.47 73.99 L411.09 73.78 L411.70 73.56 L412.32 73.35 L412.94 73.14 L413.56 72.93 L414.18 72.72 L414.80 72.51 L415.42 72.30 L416.03 72.10 L416.65 71.89 L417.27 71.69 L417.89 71.49 L418.51 71.29 L419.13 71.09 L419.74 70.89 L420.36 70.70 L420.98 70.50 L421.60 70.31 L422.22 70.11 L422.84 69.92 L423.45 69.73 L424.07 69.54 L424.69 69.36 L425.31 69.17 L425.93 68.98 L426.55 68.80 L427.16 68.61 L427.78 68.43 L428.40 68.25 L429.02 68.07 L429.64 67.89 L430.26 67.71 L430.88 67.54 L431.49 67.36 L432.11 67.18 L432.73 67.01 L433.35 66.84 L433.97 66.67 L434.59 66.49 L435.20 66.32 L435.82 66.15 L436.44 65.99 L437.06 65.82 L437.68 65.65 L438.30 65.49 L438.91 65.32 L439.53 65.16 L440.15 65.00 L440.77 64.84 L441.39 64.68 L442.01 64.52 L442.62 64.36 L443.24 64.20 L443.86 64.04 L444.48 63.89 L445.10 63.73 L445.72 63.58 L446.34 63.42 L446.95 63.27 L447.57 63.12 L448.19 62.97 L448.81 62.81 L449.43 62.66 L450.05 62.52 L450.66 62.37 L451.28 62.22 L451.90 62.07 L452.52 61.93 L453.14 61.78 L453.76 61.64 L454.37 61.50 L454.99 61.35 L455.61 61.21 L456.23 61.07 L456.85 60.93 L457.47 60.79 L458.08 60.65 L458.70 60.51 L459.32 60.37 L459.94 60.24 L460.56 60.10 L461.18 59.97 L461.79 59.83 L462.41 59.70 L463.03 59.56 L463.65 59.43" fill="none" stroke="#141414" stroke-width="1.10" stroke-linejoin="round" clip-path="url(#cb)"/>
<text transform="translate(290.50 198.40) scale(0.890 1)" font-size="13.00" text-anchor="middle" fill="#111"   stroke="#111" stroke-width="0.22">2</text>
<text transform="translate(315.24 198.40) scale(0.890 1)" font-size="13.00" text-anchor="middle" fill="#111"   stroke="#111" stroke-width="0.22">3</text>
<text transform="translate(339.97 198.40) scale(0.890 1)" font-size="13.00" text-anchor="middle" fill="#111"   stroke="#111" stroke-width="0.22">4</text>
<text transform="translate(364.71 198.40) scale(0.890 1)" font-size="13.00" text-anchor="middle" fill="#111"   stroke="#111" stroke-width="0.22">5</text>
<text transform="translate(389.44 198.40) scale(0.890 1)" font-size="13.00" text-anchor="middle" fill="#111"   stroke="#111" stroke-width="0.22">6</text>
<text transform="translate(414.18 198.40) scale(0.890 1)" font-size="13.00" text-anchor="middle" fill="#111"   stroke="#111" stroke-width="0.22">7</text>
<text transform="translate(438.91 198.40) scale(0.890 1)" font-size="13.00" text-anchor="middle" fill="#111"   stroke="#111" stroke-width="0.22">8</text>
<text transform="translate(463.65 198.40) scale(0.890 1)" font-size="13.00" text-anchor="middle" fill="#111"   stroke="#111" stroke-width="0.22">9</text>
<text transform="translate(286.20 188.85) scale(0.890 1)" font-size="13.00" text-anchor="end" fill="#111"   stroke="#111" stroke-width="0.22">0.75</text>
<text transform="translate(286.20 154.27) scale(0.890 1)" font-size="13.00" text-anchor="end" fill="#111"   stroke="#111" stroke-width="0.22">0.80</text>
<text transform="translate(286.20 119.69) scale(0.890 1)" font-size="13.00" text-anchor="end" fill="#111"   stroke="#111" stroke-width="0.22">0.85</text>
<text transform="translate(286.20 85.11) scale(0.890 1)" font-size="13.00" text-anchor="end" fill="#111"   stroke="#111" stroke-width="0.22">0.90</text>
<text transform="translate(286.20 50.53) scale(0.890 1)" font-size="13.00" text-anchor="end" fill="#111"   stroke="#111" stroke-width="0.22">0.95</text>
<text transform="translate(286.20 15.95) scale(0.890 1)" font-size="13.00" text-anchor="end" fill="#111"   stroke="#111" stroke-width="0.22">1.00</text>
<path d="M61.50 397.30 v-3.60 M61.50 224.40 v3.60 M70.12 397.30 v-2.00 M70.12 224.40 v2.00 M78.75 397.30 v-2.00 M78.75 224.40 v2.00 M87.38 397.30 v-2.00 M87.38 224.40 v2.00 M96.00 397.30 v-2.00 M96.00 224.40 v2.00 M104.62 397.30 v-3.60 M104.62 224.40 v3.60 M113.25 397.30 v-2.00 M113.25 224.40 v2.00 M121.88 397.30 v-2.00 M121.88 224.40 v2.00 M130.50 397.30 v-2.00 M130.50 224.40 v2.00 M139.12 397.30 v-2.00 M139.12 224.40 v2.00 M147.75 397.30 v-3.60 M147.75 224.40 v3.60 M156.38 397.30 v-2.00 M156.38 224.40 v2.00 M165.00 397.30 v-2.00 M165.00 224.40 v2.00 M173.62 397.30 v-2.00 M173.62 224.40 v2.00 M182.25 397.30 v-2.00 M182.25 224.40 v2.00 M190.88 397.30 v-3.60 M190.88 224.40 v3.60 M199.50 397.30 v-2.00 M199.50 224.40 v2.00 M208.13 397.30 v-2.00 M208.13 224.40 v2.00 M216.75 397.30 v-2.00 M216.75 224.40 v2.00 M225.38 397.30 v-2.00 M225.38 224.40 v2.00 M234.00 397.30 v-3.60 M234.00 224.40 v3.60 M61.50 397.30 h3.60 M234.00 397.30 h-3.60 M61.50 391.54 h2.00 M234.00 391.54 h-2.00 M61.50 385.77 h2.00 M234.00 385.77 h-2.00 M61.50 380.01 h2.00 M234.00 380.01 h-2.00 M61.50 374.25 h2.00 M234.00 374.25 h-2.00 M61.50 368.48 h3.60 M234.00 368.48 h-3.60 M61.50 362.72 h2.00 M234.00 362.72 h-2.00 M61.50 356.96 h2.00 M234.00 356.96 h-2.00 M61.50 351.19 h2.00 M234.00 351.19 h-2.00 M61.50 345.43 h2.00 M234.00 345.43 h-2.00 M61.50 339.67 h3.60 M234.00 339.67 h-3.60 M61.50 333.90 h2.00 M234.00 333.90 h-2.00 M61.50 328.14 h2.00 M234.00 328.14 h-2.00 M61.50 322.38 h2.00 M234.00 322.38 h-2.00 M61.50 316.61 h2.00 M234.00 316.61 h-2.00 M61.50 310.85 h3.60 M234.00 310.85 h-3.60 M61.50 305.09 h2.00 M234.00 305.09 h-2.00 M61.50 299.32 h2.00 M234.00 299.32 h-2.00 M61.50 293.56 h2.00 M234.00 293.56 h-2.00 M61.50 287.80 h2.00 M234.00 287.80 h-2.00 M61.50 282.03 h3.60 M234.00 282.03 h-3.60 M61.50 276.27 h2.00 M234.00 276.27 h-2.00 M61.50 270.51 h2.00 M234.00 270.51 h-2.00 M61.50 264.74 h2.00 M234.00 264.74 h-2.00 M61.50 258.98 h2.00 M234.00 258.98 h-2.00 M61.50 253.22 h3.60 M234.00 253.22 h-3.60 M61.50 247.45 h2.00 M234.00 247.45 h-2.00 M61.50 241.69 h2.00 M234.00 241.69 h-2.00 M61.50 235.93 h2.00 M234.00 235.93 h-2.00 M61.50 230.16 h2.00 M234.00 230.16 h-2.00 M61.50 224.40 h3.60 M234.00 224.40 h-3.60" fill="none" stroke="#b2b2b2" stroke-width="0.7"/>
<rect x="61.50" y="224.40" width="172.50" height="172.90" fill="none" stroke="#c0c0c0" stroke-width="0.85"/>
<circle cx="85.65" cy="341.07" r="1.36" fill="#1e1ef0" fill-opacity="0.25" stroke="#1e1ef0" stroke-width="0.6" opacity="0.60"/>
<circle cx="94.10" cy="338.03" r="1.36" fill="#1e1ef0" fill-opacity="0.25" stroke="#1e1ef0" stroke-width="0.6" opacity="0.60"/>
<circle cx="102.56" cy="334.92" r="1.36" fill="#1e1ef0" fill-opacity="0.25" stroke="#1e1ef0" stroke-width="0.6" opacity="0.60"/>
<circle cx="111.01" cy="331.76" r="1.36" fill="#1e1ef0" fill-opacity="0.25" stroke="#1e1ef0" stroke-width="0.6" opacity="0.60"/>
<circle cx="119.46" cy="328.55" r="1.36" fill="#1e1ef0" fill-opacity="0.25" stroke="#1e1ef0" stroke-width="0.6" opacity="0.60"/>
<circle cx="127.91" cy="325.28" r="1.36" fill="#1e1ef0" fill-opacity="0.25" stroke="#1e1ef0" stroke-width="0.6" opacity="0.60"/>
<circle cx="136.37" cy="321.95" r="1.36" fill="#1e1ef0" fill-opacity="0.25" stroke="#1e1ef0" stroke-width="0.6" opacity="0.60"/>
<circle cx="144.82" cy="318.57" r="1.36" fill="#1e1ef0" fill-opacity="0.25" stroke="#1e1ef0" stroke-width="0.6" opacity="0.60"/>
<circle cx="153.27" cy="315.13" r="1.36" fill="#1e1ef0" fill-opacity="0.25" stroke="#1e1ef0" stroke-width="0.6" opacity="0.60"/>
<circle cx="161.72" cy="311.63" r="1.36" fill="#1e1ef0" fill-opacity="0.25" stroke="#1e1ef0" stroke-width="0.6" opacity="0.60"/>
<circle cx="170.17" cy="308.08" r="1.36" fill="#1e1ef0" fill-opacity="0.25" stroke="#1e1ef0" stroke-width="0.6" opacity="0.60"/>
<circle cx="178.63" cy="304.47" r="1.36" fill="#1e1ef0" fill-opacity="0.25" stroke="#1e1ef0" stroke-width="0.6" opacity="0.60"/>
<circle cx="187.08" cy="300.81" r="1.36" fill="#1e1ef0" fill-opacity="0.25" stroke="#1e1ef0" stroke-width="0.6" opacity="0.60"/>
<circle cx="195.53" cy="297.08" r="1.36" fill="#1e1ef0" fill-opacity="0.25" stroke="#1e1ef0" stroke-width="0.6" opacity="0.60"/>
<circle cx="203.98" cy="293.31" r="1.36" fill="#1e1ef0" fill-opacity="0.25" stroke="#1e1ef0" stroke-width="0.6" opacity="0.60"/>
<circle cx="212.44" cy="289.47" r="1.36" fill="#1e1ef0" fill-opacity="0.25" stroke="#1e1ef0" stroke-width="0.6" opacity="0.60"/>
<rect x="83.95" y="363.67" width="3.40" height="3.40" fill="none" stroke="#c82828" stroke-width="0.6" opacity="0.32"/>
<rect x="92.40" y="361.22" width="3.40" height="3.40" fill="none" stroke="#c82828" stroke-width="0.6" opacity="0.32"/>
<rect x="100.86" y="358.75" width="3.40" height="3.40" fill="none" stroke="#c82828" stroke-width="0.6" opacity="0.32"/>
<rect x="109.31" y="356.25" width="3.40" height="3.40" fill="none" stroke="#c82828" stroke-width="0.6" opacity="0.32"/>
<rect x="117.76" y="353.72" width="3.40" height="3.40" fill="none" stroke="#c82828" stroke-width="0.6" opacity="0.32"/>
<rect x="126.21" y="351.15" width="3.40" height="3.40" fill="none" stroke="#c82828" stroke-width="0.6" opacity="0.32"/>
<rect x="134.67" y="348.56" width="3.40" height="3.40" fill="none" stroke="#c82828" stroke-width="0.6" opacity="0.32"/>
<rect x="143.12" y="345.93" width="3.40" height="3.40" fill="none" stroke="#c82828" stroke-width="0.6" opacity="0.32"/>
<rect x="151.57" y="343.27" width="3.40" height="3.40" fill="none" stroke="#c82828" stroke-width="0.6" opacity="0.32"/>
<rect x="160.02" y="340.59" width="3.40" height="3.40" fill="none" stroke="#c82828" stroke-width="0.6" opacity="0.32"/>
<rect x="168.47" y="337.87" width="3.40" height="3.40" fill="none" stroke="#c82828" stroke-width="0.6" opacity="0.32"/>
<rect x="176.93" y="335.12" width="3.40" height="3.40" fill="none" stroke="#c82828" stroke-width="0.6" opacity="0.32"/>
<rect x="185.38" y="332.34" width="3.40" height="3.40" fill="none" stroke="#c82828" stroke-width="0.6" opacity="0.32"/>
<rect x="193.83" y="329.53" width="3.40" height="3.40" fill="none" stroke="#c82828" stroke-width="0.6" opacity="0.32"/>
<rect x="202.28" y="326.69" width="3.40" height="3.40" fill="none" stroke="#c82828" stroke-width="0.6" opacity="0.32"/>
<rect x="210.74" y="323.82" width="3.40" height="3.40" fill="none" stroke="#c82828" stroke-width="0.6" opacity="0.32"/>
<path d="M85.65 373.70 L87.52 377.10 L83.78 377.10 Z" fill="none" stroke="#1e783c" stroke-width="0.6" opacity="0.60"/>
<path d="M94.10 371.85 L95.97 375.25 L92.23 375.25 Z" fill="none" stroke="#1e783c" stroke-width="0.6" opacity="0.60"/>
<path d="M102.56 369.98 L104.43 373.38 L100.69 373.38 Z" fill="none" stroke="#1e783c" stroke-width="0.6" opacity="0.60"/>
<path d="M111.01 368.07 L112.88 371.47 L109.14 371.47 Z" fill="none" stroke="#1e783c" stroke-width="0.6" opacity="0.60"/>
<path d="M119.46 366.14 L121.33 369.54 L117.59 369.54 Z" fill="none" stroke="#1e783c" stroke-width="0.6" opacity="0.60"/>
<path d="M127.91 364.18 L129.78 367.58 L126.04 367.58 Z" fill="none" stroke="#1e783c" stroke-width="0.6" opacity="0.60"/>
<path d="M136.37 362.19 L138.24 365.59 L134.50 365.59 Z" fill="none" stroke="#1e783c" stroke-width="0.6" opacity="0.60"/>
<path d="M144.82 360.17 L146.69 363.57 L142.95 363.57 Z" fill="none" stroke="#1e783c" stroke-width="0.6" opacity="0.60"/>
<path d="M153.27 358.11 L155.14 361.51 L151.40 361.51 Z" fill="none" stroke="#1e783c" stroke-width="0.6" opacity="0.60"/>
<path d="M161.72 356.03 L163.59 359.43 L159.85 359.43 Z" fill="none" stroke="#1e783c" stroke-width="0.6" opacity="0.60"/>
<path d="M170.17 353.93 L172.04 357.33 L168.30 357.33 Z" fill="none" stroke="#1e783c" stroke-width="0.6" opacity="0.60"/>
<path d="M178.63 351.79 L180.50 355.19 L176.76 355.19 Z" fill="none" stroke="#1e783c" stroke-width="0.6" opacity="0.60"/>
<path d="M187.08 349.62 L188.95 353.02 L185.21 353.02 Z" fill="none" stroke="#1e783c" stroke-width="0.6" opacity="0.60"/>
<path d="M195.53 347.42 L197.40 350.82 L193.66 350.82 Z" fill="none" stroke="#1e783c" stroke-width="0.6" opacity="0.60"/>
<path d="M203.98 345.19 L205.85 348.59 L202.11 348.59 Z" fill="none" stroke="#1e783c" stroke-width="0.6" opacity="0.60"/>
<path d="M212.44 342.94 L214.31 346.34 L210.57 346.34 Z" fill="none" stroke="#1e783c" stroke-width="0.6" opacity="0.60"/>
<circle cx="85.65" cy="380.55" r="1.36" fill="#ff1e96" fill-opacity="0.25" stroke="#ff1e96" stroke-width="0.6" opacity="0.60"/>
<circle cx="94.10" cy="378.86" r="1.36" fill="#ff1e96" fill-opacity="0.25" stroke="#ff1e96" stroke-width="0.6" opacity="0.60"/>
<circle cx="102.56" cy="377.15" r="1.36" fill="#ff1e96" fill-opacity="0.25" stroke="#ff1e96" stroke-width="0.6" opacity="0.60"/>
<circle cx="111.01" cy="375.44" r="1.36" fill="#ff1e96" fill-opacity="0.25" stroke="#ff1e96" stroke-width="0.6" opacity="0.60"/>
<circle cx="119.46" cy="373.72" r="1.36" fill="#ff1e96" fill-opacity="0.25" stroke="#ff1e96" stroke-width="0.6" opacity="0.60"/>
<circle cx="127.91" cy="371.99" r="1.36" fill="#ff1e96" fill-opacity="0.25" stroke="#ff1e96" stroke-width="0.6" opacity="0.60"/>
<circle cx="136.37" cy="370.25" r="1.36" fill="#ff1e96" fill-opacity="0.25" stroke="#ff1e96" stroke-width="0.6" opacity="0.60"/>
<circle cx="144.82" cy="368.50" r="1.36" fill="#ff1e96" fill-opacity="0.25" stroke="#ff1e96" stroke-width="0.6" opacity="0.60"/>
<circle cx="153.27" cy="366.74" r="1.36" fill="#ff1e96" fill-opacity="0.25" stroke="#ff1e96" stroke-width="0.6" opacity="0.60"/>
<circle cx="161.72" cy="364.97" r="1.36" fill="#ff1e96" fill-opacity="0.25" stroke="#ff1e96" stroke-width="0.6" opacity="0.60"/>
<circle cx="170.17" cy="363.19" r="1.36" fill="#ff1e96" fill-opacity="0.25" stroke="#ff1e96" stroke-width="0.6" opacity="0.60"/>
<circle cx="178.63" cy="361.40" r="1.36" fill="#ff1e96" fill-opacity="0.25" stroke="#ff1e96" stroke-width="0.6" opacity="0.60"/>
<circle cx="187.08" cy="359.61" r="1.36" fill="#ff1e96" fill-opacity="0.25" stroke="#ff1e96" stroke-width="0.6" opacity="0.60"/>
<circle cx="195.53" cy="357.80" r="1.36" fill="#ff1e96" fill-opacity="0.25" stroke="#ff1e96" stroke-width="0.6" opacity="0.60"/>
<circle cx="203.98" cy="355.98" r="1.36" fill="#ff1e96" fill-opacity="0.25" stroke="#ff1e96" stroke-width="0.6" opacity="0.60"/>
<circle cx="212.44" cy="354.16" r="1.36" fill="#ff1e96" fill-opacity="0.25" stroke="#ff1e96" stroke-width="0.6" opacity="0.60"/>
<rect x="83.95" y="381.87" width="3.40" height="3.40" fill="none" stroke="#141414" stroke-width="0.6" opacity="0.30"/>
<rect x="92.40" y="380.43" width="3.40" height="3.40" fill="none" stroke="#141414" stroke-width="0.6" opacity="0.30"/>
<rect x="100.86" y="378.97" width="3.40" height="3.40" fill="none" stroke="#141414" stroke-width="0.6" opacity="0.30"/>
<rect x="109.31" y="377.49" width="3.40" height="3.40" fill="none" stroke="#141414" stroke-width="0.6" opacity="0.30"/>
<rect x="117.76" y="376.00" width="3.40" height="3.40" fill="none" stroke="#141414" stroke-width="0.6" opacity="0.30"/>
<rect x="126.21" y="374.50" width="3.40" height="3.40" fill="none" stroke="#141414" stroke-width="0.6" opacity="0.30"/>
<rect x="134.67" y="372.98" width="3.40" height="3.40" fill="none" stroke="#141414" stroke-width="0.6" opacity="0.30"/>
<rect x="143.12" y="371.45" width="3.40" height="3.40" fill="none" stroke="#141414" stroke-width="0.6" opacity="0.30"/>
<rect x="151.57" y="369.90" width="3.40" height="3.40" fill="none" stroke="#141414" stroke-width="0.6" opacity="0.30"/>
<rect x="160.02" y="368.34" width="3.40" height="3.40" fill="none" stroke="#141414" stroke-width="0.6" opacity="0.30"/>
<rect x="168.47" y="366.77" width="3.40" height="3.40" fill="none" stroke="#141414" stroke-width="0.6" opacity="0.30"/>
<rect x="176.93" y="365.17" width="3.40" height="3.40" fill="none" stroke="#141414" stroke-width="0.6" opacity="0.30"/>
<rect x="185.38" y="363.57" width="3.40" height="3.40" fill="none" stroke="#141414" stroke-width="0.6" opacity="0.30"/>
<rect x="193.83" y="361.95" width="3.40" height="3.40" fill="none" stroke="#141414" stroke-width="0.6" opacity="0.30"/>
<rect x="202.28" y="360.31" width="3.40" height="3.40" fill="none" stroke="#141414" stroke-width="0.6" opacity="0.30"/>
<rect x="210.74" y="358.67" width="3.40" height="3.40" fill="none" stroke="#141414" stroke-width="0.6" opacity="0.30"/>
<path d="M61.50 349.46 L63.66 348.73 L65.81 348.00 L67.97 347.26 L70.12 346.52 L72.28 345.77 L74.44 345.03 L76.59 344.27 L78.75 343.52 L80.91 342.76 L83.06 341.99 L85.22 341.23 L87.38 340.45 L89.53 339.68 L91.69 338.90 L93.84 338.12 L96.00 337.33 L98.16 336.54 L100.31 335.75 L102.47 334.95 L104.62 334.15 L106.78 333.35 L108.94 332.54 L111.09 331.73 L113.25 330.92 L115.41 330.10 L117.56 329.28 L119.72 328.45 L121.88 327.62 L124.03 326.79 L126.19 325.95 L128.34 325.11 L130.50 324.27 L132.66 323.42 L134.81 322.57 L136.97 321.71 L139.12 320.85 L141.28 319.99 L143.44 319.12 L145.59 318.25 L147.75 317.38 L149.91 316.50 L152.06 315.62 L154.22 314.74 L156.38 313.85 L158.53 312.96 L160.69 312.06 L162.84 311.16 L165.00 310.26 L167.16 309.35 L169.31 308.44 L171.47 307.53 L173.62 306.61 L175.78 305.69 L177.94 304.77 L180.09 303.84 L182.25 302.91 L184.41 301.97 L186.56 301.03 L188.72 300.09 L190.88 299.14 L193.03 298.19 L195.19 297.24 L197.34 296.28 L199.50 295.32 L201.66 294.35 L203.81 293.39 L205.97 292.41 L208.13 291.44 L210.28 290.46 L212.44 289.47 L214.59 288.49 L216.75 287.50 L218.91 286.50 L221.06 285.50 L223.22 284.50 L225.38 283.50 L227.53 282.49 L229.69 281.48 L231.84 280.46 L234.00 279.44" fill="none" stroke="#1e1ef0" stroke-width="1.10" stroke-linejoin="round" clip-path="url(#cc)"/>
<path d="M61.50 372.17 L63.66 371.57 L65.81 370.97 L67.97 370.37 L70.12 369.77 L72.28 369.16 L74.44 368.56 L76.59 367.95 L78.75 367.34 L80.91 366.72 L83.06 366.11 L85.22 365.49 L87.38 364.87 L89.53 364.25 L91.69 363.63 L93.84 363.00 L96.00 362.37 L98.16 361.74 L100.31 361.11 L102.47 360.48 L104.62 359.84 L106.78 359.21 L108.94 358.57 L111.09 357.92 L113.25 357.28 L115.41 356.64 L117.56 355.99 L119.72 355.34 L121.88 354.69 L124.03 354.03 L126.19 353.38 L128.34 352.72 L130.50 352.06 L132.66 351.40 L134.81 350.74 L136.97 350.07 L139.12 349.40 L141.28 348.73 L143.44 348.06 L145.59 347.39 L147.75 346.71 L149.91 346.04 L152.06 345.36 L154.22 344.67 L156.38 343.99 L158.53 343.31 L160.69 342.62 L162.84 341.93 L165.00 341.24 L167.16 340.54 L169.31 339.85 L171.47 339.15 L173.62 338.45 L175.78 337.75 L177.94 337.05 L180.09 336.34 L182.25 335.63 L184.41 334.92 L186.56 334.21 L188.72 333.50 L190.88 332.78 L193.03 332.07 L195.19 331.35 L197.34 330.63 L199.50 329.90 L201.66 329.18 L203.81 328.45 L205.97 327.72 L208.13 326.99 L210.28 326.25 L212.44 325.52 L214.59 324.78 L216.75 324.04 L218.91 323.30 L221.06 322.56 L223.22 321.81 L225.38 321.06 L227.53 320.31 L229.69 319.56 L231.84 318.81 L234.00 318.05" fill="none" stroke="#c82828" stroke-width="1.10" stroke-linejoin="round" clip-path="url(#cc)"/>
<path d="M61.50 380.85 L63.66 380.40 L65.81 379.95 L67.97 379.50 L70.12 379.05 L72.28 378.59 L74.44 378.14 L76.59 377.68 L78.75 377.22 L80.91 376.76 L83.06 376.30 L85.22 375.83 L87.38 375.36 L89.53 374.89 L91.69 374.42 L93.84 373.95 L96.00 373.47 L98.16 373.00 L100.31 372.52 L102.47 372.04 L104.62 371.55 L106.78 371.07 L108.94 370.58 L111.09 370.09 L113.25 369.60 L115.41 369.11 L117.56 368.62 L119.72 368.12 L121.88 367.62 L124.03 367.12 L126.19 366.62 L128.34 366.12 L130.50 365.61 L132.66 365.10 L134.81 364.59 L136.97 364.08 L139.12 363.57 L141.28 363.05 L143.44 362.54 L145.59 362.02 L147.75 361.50 L149.91 360.97 L152.06 360.45 L154.22 359.92 L156.38 359.39 L158.53 358.86 L160.69 358.33 L162.84 357.80 L165.00 357.26 L167.16 356.72 L169.31 356.18 L171.47 355.64 L173.62 355.10 L175.78 354.55 L177.94 354.00 L180.09 353.45 L182.25 352.90 L184.41 352.35 L186.56 351.79 L188.72 351.24 L190.88 350.68 L193.03 350.11 L195.19 349.55 L197.34 348.99 L199.50 348.42 L201.66 347.85 L203.81 347.28 L205.97 346.71 L208.13 346.13 L210.28 345.56 L212.44 344.98 L214.59 344.40 L216.75 343.82 L218.91 343.23 L221.06 342.65 L223.22 342.06 L225.38 341.47 L227.53 340.88 L229.69 340.28 L231.84 339.69 L234.00 339.09" fill="none" stroke="#1e783c" stroke-width="1.10" stroke-linejoin="round" clip-path="url(#cc)"/>
<path d="M61.50 385.34 L63.66 384.92 L65.81 384.49 L67.97 384.07 L70.12 383.64 L72.28 383.21 L74.44 382.78 L76.59 382.36 L78.75 381.93 L80.91 381.50 L83.06 381.07 L85.22 380.64 L87.38 380.21 L89.53 379.77 L91.69 379.34 L93.84 378.91 L96.00 378.48 L98.16 378.04 L100.31 377.61 L102.47 377.17 L104.62 376.73 L106.78 376.30 L108.94 375.86 L111.09 375.42 L113.25 374.98 L115.41 374.55 L117.56 374.11 L119.72 373.67 L121.88 373.22 L124.03 372.78 L126.19 372.34 L128.34 371.90 L130.50 371.45 L132.66 371.01 L134.81 370.57 L136.97 370.12 L139.12 369.68 L141.28 369.23 L143.44 368.78 L145.59 368.33 L147.75 367.89 L149.91 367.44 L152.06 366.99 L154.22 366.54 L156.38 366.09 L158.53 365.64 L160.69 365.18 L162.84 364.73 L165.00 364.28 L167.16 363.83 L169.31 363.37 L171.47 362.92 L173.62 362.46 L175.78 362.01 L177.94 361.55 L180.09 361.09 L182.25 360.63 L184.41 360.18 L186.56 359.72 L188.72 359.26 L190.88 358.80 L193.03 358.34 L195.19 357.87 L197.34 357.41 L199.50 356.95 L201.66 356.49 L203.81 356.02 L205.97 355.56 L208.13 355.09 L210.28 354.63 L212.44 354.16 L214.59 353.69 L216.75 353.23 L218.91 352.76 L221.06 352.29 L223.22 351.82 L225.38 351.35 L227.53 350.88 L229.69 350.41 L231.84 349.94 L234.00 349.46" fill="none" stroke="#ff1e96" stroke-width="1.10" stroke-linejoin="round" clip-path="url(#cc)"/>
<path d="M61.50 387.62 L63.66 387.26 L65.81 386.90 L67.97 386.55 L70.12 386.19 L72.28 385.83 L74.44 385.46 L76.59 385.10 L78.75 384.74 L80.91 384.37 L83.06 384.01 L85.22 383.64 L87.38 383.28 L89.53 382.91 L91.69 382.54 L93.84 382.17 L96.00 381.80 L98.16 381.43 L100.31 381.05 L102.47 380.68 L104.62 380.31 L106.78 379.93 L108.94 379.55 L111.09 379.18 L113.25 378.80 L115.41 378.42 L117.56 378.04 L119.72 377.66 L121.88 377.28 L124.03 376.89 L126.19 376.51 L128.34 376.12 L130.50 375.74 L132.66 375.35 L134.81 374.96 L136.97 374.57 L139.12 374.18 L141.28 373.79 L143.44 373.40 L145.59 373.01 L147.75 372.61 L149.91 372.22 L152.06 371.82 L154.22 371.43 L156.38 371.03 L158.53 370.63 L160.69 370.23 L162.84 369.83 L165.00 369.43 L167.16 369.03 L169.31 368.63 L171.47 368.22 L173.62 367.82 L175.78 367.41 L177.94 367.00 L180.09 366.60 L182.25 366.19 L184.41 365.78 L186.56 365.37 L188.72 364.96 L190.88 364.54 L193.03 364.13 L195.19 363.72 L197.34 363.30 L199.50 362.88 L201.66 362.47 L203.81 362.05 L205.97 361.63 L208.13 361.21 L210.28 360.79 L212.44 360.37 L214.59 359.94 L216.75 359.52 L218.91 359.09 L221.06 358.67 L223.22 358.24 L225.38 357.81 L227.53 357.38 L229.69 356.95 L231.84 356.52 L234.00 356.09" fill="none" stroke="#141414" stroke-width="1.10" stroke-linejoin="round" clip-path="url(#cc)"/>
<text transform="translate(61.50 408.80) scale(0.890 1)" font-size="13.00" text-anchor="middle" fill="#111"   stroke="#111" stroke-width="0.22">0.0005</text>
<text transform="translate(104.62 408.80) scale(0.890 1)" font-size="13.00" text-anchor="middle" fill="#111"   stroke="#111" stroke-width="0.22">0.001</text>
<text transform="translate(147.75 408.80) scale(0.890 1)" font-size="13.00" text-anchor="middle" fill="#111"   stroke="#111" stroke-width="0.22">0.0015</text>
<text transform="translate(190.88 408.80) scale(0.890 1)" font-size="13.00" text-anchor="middle" fill="#111"   stroke="#111" stroke-width="0.22">0.002</text>
<text transform="translate(234.00 408.80) scale(0.890 1)" font-size="13.00" text-anchor="middle" fill="#111"   stroke="#111" stroke-width="0.22">0.0025</text>
<text transform="translate(57.20 399.70) scale(0.890 1)" font-size="13.00" text-anchor="end" fill="#111"   stroke="#111" stroke-width="0.22">0.0000</text>
<text transform="translate(57.20 370.88) scale(0.890 1)" font-size="13.00" text-anchor="end" fill="#111"   stroke="#111" stroke-width="0.22">0.0001</text>
<text transform="translate(57.20 342.07) scale(0.890 1)" font-size="13.00" text-anchor="end" fill="#111"   stroke="#111" stroke-width="0.22">0.0002</text>
<text transform="translate(57.20 313.25) scale(0.890 1)" font-size="13.00" text-anchor="end" fill="#111"   stroke="#111" stroke-width="0.22">0.0003</text>
<text transform="translate(57.20 284.43) scale(0.890 1)" font-size="13.00" text-anchor="end" fill="#111"   stroke="#111" stroke-width="0.22">0.0004</text>
<text transform="translate(57.20 255.62) scale(0.890 1)" font-size="13.00" text-anchor="end" fill="#111"   stroke="#111" stroke-width="0.22">0.0005</text>
<text transform="translate(57.20 226.80) scale(0.890 1)" font-size="13.00" text-anchor="end" fill="#111"   stroke="#111" stroke-width="0.22">0.0006</text>
<path d="M289.55 396.30 v-3.60 M289.55 223.50 v3.60 M298.21 396.30 v-2.00 M298.21 223.50 v2.00 M306.87 396.30 v-2.00 M306.87 223.50 v2.00 M315.52 396.30 v-2.00 M315.52 223.50 v2.00 M324.18 396.30 v-2.00 M324.18 223.50 v2.00 M332.84 396.30 v-3.60 M332.84 223.50 v3.60 M341.50 396.30 v-2.00 M341.50 223.50 v2.00 M350.15 396.30 v-2.00 M350.15 223.50 v2.00 M358.81 396.30 v-2.00 M358.81 223.50 v2.00 M367.47 396.30 v-2.00 M367.47 223.50 v2.00 M376.12 396.30 v-3.60 M376.12 223.50 v3.60 M384.78 396.30 v-2.00 M384.78 223.50 v2.00 M393.44 396.30 v-2.00 M393.44 223.50 v2.00 M402.10 396.30 v-2.00 M402.10 223.50 v2.00 M410.75 396.30 v-2.00 M410.75 223.50 v2.00 M419.41 396.30 v-3.60 M419.41 223.50 v3.60 M428.07 396.30 v-2.00 M428.07 223.50 v2.00 M436.73 396.30 v-2.00 M436.73 223.50 v2.00 M445.38 396.30 v-2.00 M445.38 223.50 v2.00 M454.04 396.30 v-2.00 M454.04 223.50 v2.00 M462.70 396.30 v-3.60 M462.70 223.50 v3.60 M289.55 396.30 h3.60 M462.70 396.30 h-3.60 M289.55 391.98 h2.00 M462.70 391.98 h-2.00 M289.55 387.66 h2.00 M462.70 387.66 h-2.00 M289.55 383.34 h2.00 M462.70 383.34 h-2.00 M289.55 379.02 h2.00 M462.70 379.02 h-2.00 M289.55 374.70 h2.00 M462.70 374.70 h-2.00 M289.55 370.38 h2.00 M462.70 370.38 h-2.00 M289.55 366.06 h2.00 M462.70 366.06 h-2.00 M289.55 361.74 h2.00 M462.70 361.74 h-2.00 M289.55 357.42 h2.00 M462.70 357.42 h-2.00 M289.55 353.10 h3.60 M462.70 353.10 h-3.60 M289.55 348.78 h2.00 M462.70 348.78 h-2.00 M289.55 344.46 h2.00 M462.70 344.46 h-2.00 M289.55 340.14 h2.00 M462.70 340.14 h-2.00 M289.55 335.82 h2.00 M462.70 335.82 h-2.00 M289.55 331.50 h2.00 M462.70 331.50 h-2.00 M289.55 327.18 h2.00 M462.70 327.18 h-2.00 M289.55 322.86 h2.00 M462.70 322.86 h-2.00 M289.55 318.54 h2.00 M462.70 318.54 h-2.00 M289.55 314.22 h2.00 M462.70 314.22 h-2.00 M289.55 309.90 h3.60 M462.70 309.90 h-3.60 M289.55 305.58 h2.00 M462.70 305.58 h-2.00 M289.55 301.26 h2.00 M462.70 301.26 h-2.00 M289.55 296.94 h2.00 M462.70 296.94 h-2.00 M289.55 292.62 h2.00 M462.70 292.62 h-2.00 M289.55 288.30 h2.00 M462.70 288.30 h-2.00 M289.55 283.98 h2.00 M462.70 283.98 h-2.00 M289.55 279.66 h2.00 M462.70 279.66 h-2.00 M289.55 275.34 h2.00 M462.70 275.34 h-2.00 M289.55 271.02 h2.00 M462.70 271.02 h-2.00 M289.55 266.70 h3.60 M462.70 266.70 h-3.60 M289.55 262.38 h2.00 M462.70 262.38 h-2.00 M289.55 258.06 h2.00 M462.70 258.06 h-2.00 M289.55 253.74 h2.00 M462.70 253.74 h-2.00 M289.55 249.42 h2.00 M462.70 249.42 h-2.00 M289.55 245.10 h2.00 M462.70 245.10 h-2.00 M289.55 240.78 h2.00 M462.70 240.78 h-2.00 M289.55 236.46 h2.00 M462.70 236.46 h-2.00 M289.55 232.14 h2.00 M462.70 232.14 h-2.00 M289.55 227.82 h2.00 M462.70 227.82 h-2.00 M289.55 223.50 h3.60 M462.70 223.50 h-3.60" fill="none" stroke="#b2b2b2" stroke-width="0.7"/>
<rect x="289.55" y="223.50" width="173.15" height="172.80" fill="none" stroke="#c0c0c0" stroke-width="0.85"/>
<path d="M289.55 374.70 h2.8 M462.70 374.70 h-2.8 M289.55 331.50 h2.8 M462.70 331.50 h-2.8 M289.55 288.30 h2.8 M462.70 288.30 h-2.8 M289.55 245.10 h2.8 M462.70 245.10 h-2.8" fill="none" stroke="#b2b2b2" stroke-width="0.7"/>
<circle cx="313.79" cy="325.28" r="1.36" fill="#1e1ef0" fill-opacity="0.25" stroke="#1e1ef0" stroke-width="0.6" opacity="0.60"/>
<circle cx="322.28" cy="321.87" r="1.36" fill="#1e1ef0" fill-opacity="0.25" stroke="#1e1ef0" stroke-width="0.6" opacity="0.60"/>
<circle cx="330.76" cy="319.50" r="1.36" fill="#1e1ef0" fill-opacity="0.25" stroke="#1e1ef0" stroke-width="0.6" opacity="0.60"/>
<circle cx="339.24" cy="317.76" r="1.36" fill="#1e1ef0" fill-opacity="0.25" stroke="#1e1ef0" stroke-width="0.6" opacity="0.60"/>
<circle cx="347.73" cy="316.44" r="1.36" fill="#1e1ef0" fill-opacity="0.25" stroke="#1e1ef0" stroke-width="0.6" opacity="0.60"/>
<circle cx="356.21" cy="315.41" r="1.36" fill="#1e1ef0" fill-opacity="0.25" stroke="#1e1ef0" stroke-width="0.6" opacity="0.60"/>
<circle cx="364.70" cy="314.58" r="1.36" fill="#1e1ef0" fill-opacity="0.25" stroke="#1e1ef0" stroke-width="0.6" opacity="0.60"/>
<circle cx="373.18" cy="313.92" r="1.36" fill="#1e1ef0" fill-opacity="0.25" stroke="#1e1ef0" stroke-width="0.6" opacity="0.60"/>
<circle cx="381.67" cy="313.38" r="1.36" fill="#1e1ef0" fill-opacity="0.25" stroke="#1e1ef0" stroke-width="0.6" opacity="0.60"/>
<circle cx="390.15" cy="312.94" r="1.36" fill="#1e1ef0" fill-opacity="0.25" stroke="#1e1ef0" stroke-width="0.6" opacity="0.60"/>
<circle cx="398.63" cy="312.57" r="1.36" fill="#1e1ef0" fill-opacity="0.25" stroke="#1e1ef0" stroke-width="0.6" opacity="0.60"/>
<circle cx="407.12" cy="312.27" r="1.36" fill="#1e1ef0" fill-opacity="0.25" stroke="#1e1ef0" stroke-width="0.6" opacity="0.60"/>
<circle cx="415.60" cy="312.02" r="1.36" fill="#1e1ef0" fill-opacity="0.25" stroke="#1e1ef0" stroke-width="0.6" opacity="0.60"/>
<circle cx="424.09" cy="311.81" r="1.36" fill="#1e1ef0" fill-opacity="0.25" stroke="#1e1ef0" stroke-width="0.6" opacity="0.60"/>
<circle cx="432.57" cy="311.63" r="1.36" fill="#1e1ef0" fill-opacity="0.25" stroke="#1e1ef0" stroke-width="0.6" opacity="0.60"/>
<circle cx="441.06" cy="311.48" r="1.36" fill="#1e1ef0" fill-opacity="0.25" stroke="#1e1ef0" stroke-width="0.6" opacity="0.60"/>
<rect x="312.09" y="284.83" width="3.40" height="3.40" fill="none" stroke="#c82828" stroke-width="0.6" opacity="0.32"/>
<rect x="320.58" y="283.72" width="3.40" height="3.40" fill="none" stroke="#c82828" stroke-width="0.6" opacity="0.32"/>
<rect x="329.06" y="283.04" width="3.40" height="3.40" fill="none" stroke="#c82828" stroke-width="0.6" opacity="0.32"/>
<rect x="337.54" y="282.63" width="3.40" height="3.40" fill="none" stroke="#c82828" stroke-width="0.6" opacity="0.32"/>
<rect x="346.03" y="282.39" width="3.40" height="3.40" fill="none" stroke="#c82828" stroke-width="0.6" opacity="0.32"/>
<rect x="354.51" y="282.24" width="3.40" height="3.40" fill="none" stroke="#c82828" stroke-width="0.6" opacity="0.32"/>
<rect x="363.00" y="282.15" width="3.40" height="3.40" fill="none" stroke="#c82828" stroke-width="0.6" opacity="0.32"/>
<rect x="371.48" y="282.10" width="3.40" height="3.40" fill="none" stroke="#c82828" stroke-width="0.6" opacity="0.32"/>
<rect x="379.97" y="282.08" width="3.40" height="3.40" fill="none" stroke="#c82828" stroke-width="0.6" opacity="0.32"/>
<rect x="388.45" y="282.07" width="3.40" height="3.40" fill="none" stroke="#c82828" stroke-width="0.6" opacity="0.32"/>
<rect x="396.93" y="282.06" width="3.40" height="3.40" fill="none" stroke="#c82828" stroke-width="0.6" opacity="0.32"/>
<rect x="405.42" y="282.07" width="3.40" height="3.40" fill="none" stroke="#c82828" stroke-width="0.6" opacity="0.32"/>
<rect x="413.90" y="282.07" width="3.40" height="3.40" fill="none" stroke="#c82828" stroke-width="0.6" opacity="0.32"/>
<rect x="422.39" y="282.08" width="3.40" height="3.40" fill="none" stroke="#c82828" stroke-width="0.6" opacity="0.32"/>
<rect x="430.87" y="282.09" width="3.40" height="3.40" fill="none" stroke="#c82828" stroke-width="0.6" opacity="0.32"/>
<rect x="439.36" y="282.10" width="3.40" height="3.40" fill="none" stroke="#c82828" stroke-width="0.6" opacity="0.32"/>
<path d="M313.79 267.25 L315.66 270.65 L311.92 270.65 Z" fill="none" stroke="#1e783c" stroke-width="0.6" opacity="0.60"/>
<path d="M322.28 266.45 L324.15 269.85 L320.41 269.85 Z" fill="none" stroke="#1e783c" stroke-width="0.6" opacity="0.60"/>
<path d="M330.76 266.03 L332.63 269.43 L328.89 269.43 Z" fill="none" stroke="#1e783c" stroke-width="0.6" opacity="0.60"/>
<path d="M339.24 265.82 L341.11 269.22 L337.37 269.22 Z" fill="none" stroke="#1e783c" stroke-width="0.6" opacity="0.60"/>
<path d="M347.73 265.74 L349.60 269.14 L345.86 269.14 Z" fill="none" stroke="#1e783c" stroke-width="0.6" opacity="0.60"/>
<path d="M356.21 265.72 L358.08 269.12 L354.34 269.12 Z" fill="none" stroke="#1e783c" stroke-width="0.6" opacity="0.60"/>
<path d="M364.70 265.75 L366.57 269.15 L362.83 269.15 Z" fill="none" stroke="#1e783c" stroke-width="0.6" opacity="0.60"/>
<path d="M373.18 265.81 L375.05 269.21 L371.31 269.21 Z" fill="none" stroke="#1e783c" stroke-width="0.6" opacity="0.60"/>
<path d="M381.67 265.88 L383.54 269.28 L379.80 269.28 Z" fill="none" stroke="#1e783c" stroke-width="0.6" opacity="0.60"/>
<path d="M390.15 265.95 L392.02 269.35 L388.28 269.35 Z" fill="none" stroke="#1e783c" stroke-width="0.6" opacity="0.60"/>
<path d="M398.63 266.03 L400.50 269.43 L396.76 269.43 Z" fill="none" stroke="#1e783c" stroke-width="0.6" opacity="0.60"/>
<path d="M407.12 266.12 L408.99 269.52 L405.25 269.52 Z" fill="none" stroke="#1e783c" stroke-width="0.6" opacity="0.60"/>
<path d="M415.60 266.20 L417.47 269.60 L413.73 269.60 Z" fill="none" stroke="#1e783c" stroke-width="0.6" opacity="0.60"/>
<path d="M424.09 266.29 L425.96 269.69 L422.22 269.69 Z" fill="none" stroke="#1e783c" stroke-width="0.6" opacity="0.60"/>
<path d="M432.57 266.38 L434.44 269.78 L430.70 269.78 Z" fill="none" stroke="#1e783c" stroke-width="0.6" opacity="0.60"/>
<path d="M441.06 266.47 L442.93 269.87 L439.19 269.87 Z" fill="none" stroke="#1e783c" stroke-width="0.6" opacity="0.60"/>
<circle cx="313.79" cy="260.98" r="1.36" fill="#ff1e96" fill-opacity="0.25" stroke="#ff1e96" stroke-width="0.6" opacity="0.60"/>
<circle cx="322.28" cy="260.72" r="1.36" fill="#ff1e96" fill-opacity="0.25" stroke="#ff1e96" stroke-width="0.6" opacity="0.60"/>
<circle cx="330.76" cy="260.60" r="1.36" fill="#ff1e96" fill-opacity="0.25" stroke="#ff1e96" stroke-width="0.6" opacity="0.60"/>
<circle cx="339.24" cy="260.57" r="1.36" fill="#ff1e96" fill-opacity="0.25" stroke="#ff1e96" stroke-width="0.6" opacity="0.60"/>
<circle cx="347.73" cy="260.58" r="1.36" fill="#ff1e96" fill-opacity="0.25" stroke="#ff1e96" stroke-width="0.6" opacity="0.60"/>
<circle cx="356.21" cy="260.62" r="1.36" fill="#ff1e96" fill-opacity="0.25" stroke="#ff1e96" stroke-width="0.6" opacity="0.60"/>
<circle cx="364.70" cy="260.66" r="1.36" fill="#ff1e96" fill-opacity="0.25" stroke="#ff1e96" stroke-width="0.6" opacity="0.60"/>
<circle cx="373.18" cy="260.72" r="1.36" fill="#ff1e96" fill-opacity="0.25" stroke="#ff1e96" stroke-width="0.6" opacity="0.60"/>
<circle cx="381.67" cy="260.78" r="1.36" fill="#ff1e96" fill-opacity="0.25" stroke="#ff1e96" stroke-width="0.6" opacity="0.60"/>
<circle cx="390.15" cy="260.84" r="1.36" fill="#ff1e96" fill-opacity="0.25" stroke="#ff1e96" stroke-width="0.6" opacity="0.60"/>
<circle cx="398.63" cy="260.91" r="1.36" fill="#ff1e96" fill-opacity="0.25" stroke="#ff1e96" stroke-width="0.6" opacity="0.60"/>
<circle cx="407.12" cy="260.98" r="1.36" fill="#ff1e96" fill-opacity="0.25" stroke="#ff1e96" stroke-width="0.6" opacity="0.60"/>
<circle cx="415.60" cy="261.05" r="1.36" fill="#ff1e96" fill-opacity="0.25" stroke="#ff1e96" stroke-width="0.6" opacity="0.60"/>
<circle cx="424.09" cy="261.13" r="1.36" fill="#ff1e96" fill-opacity="0.25" stroke="#ff1e96" stroke-width="0.6" opacity="0.60"/>
<circle cx="432.57" cy="261.21" r="1.36" fill="#ff1e96" fill-opacity="0.25" stroke="#ff1e96" stroke-width="0.6" opacity="0.60"/>
<circle cx="441.06" cy="261.29" r="1.36" fill="#ff1e96" fill-opacity="0.25" stroke="#ff1e96" stroke-width="0.6" opacity="0.60"/>
<rect x="312.09" y="253.81" width="3.40" height="3.40" fill="none" stroke="#141414" stroke-width="0.6" opacity="0.30"/>
<rect x="320.58" y="253.61" width="3.40" height="3.40" fill="none" stroke="#141414" stroke-width="0.6" opacity="0.30"/>
<rect x="329.06" y="253.54" width="3.40" height="3.40" fill="none" stroke="#141414" stroke-width="0.6" opacity="0.30"/>
<rect x="337.54" y="253.56" width="3.40" height="3.40" fill="none" stroke="#141414" stroke-width="0.6" opacity="0.30"/>
<rect x="346.03" y="253.62" width="3.40" height="3.40" fill="none" stroke="#141414" stroke-width="0.6" opacity="0.30"/>
<rect x="354.51" y="253.70" width="3.40" height="3.40" fill="none" stroke="#141414" stroke-width="0.6" opacity="0.30"/>
<rect x="363.00" y="253.80" width="3.40" height="3.40" fill="none" stroke="#141414" stroke-width="0.6" opacity="0.30"/>
<rect x="371.48" y="253.91" width="3.40" height="3.40" fill="none" stroke="#141414" stroke-width="0.6" opacity="0.30"/>
<rect x="379.97" y="254.03" width="3.40" height="3.40" fill="none" stroke="#141414" stroke-width="0.6" opacity="0.30"/>
<rect x="388.45" y="254.14" width="3.40" height="3.40" fill="none" stroke="#141414" stroke-width="0.6" opacity="0.30"/>
<rect x="396.93" y="254.26" width="3.40" height="3.40" fill="none" stroke="#141414" stroke-width="0.6" opacity="0.30"/>
<rect x="405.42" y="254.38" width="3.40" height="3.40" fill="none" stroke="#141414" stroke-width="0.6" opacity="0.30"/>
<rect x="413.90" y="254.50" width="3.40" height="3.40" fill="none" stroke="#141414" stroke-width="0.6" opacity="0.30"/>
<rect x="422.39" y="254.61" width="3.40" height="3.40" fill="none" stroke="#141414" stroke-width="0.6" opacity="0.30"/>
<rect x="430.87" y="254.73" width="3.40" height="3.40" fill="none" stroke="#141414" stroke-width="0.6" opacity="0.30"/>
<rect x="439.36" y="254.85" width="3.40" height="3.40" fill="none" stroke="#141414" stroke-width="0.6" opacity="0.30"/>
<path d="M289.55 351.51 L290.63 349.25 L291.71 347.15 L292.80 345.21 L293.88 343.41 L294.96 341.74 L296.04 340.19 L297.13 338.74 L298.21 337.40 L299.29 336.14 L300.37 334.97 L301.45 333.88 L302.54 332.85 L303.62 331.90 L304.70 331.00 L305.78 330.16 L306.87 329.37 L307.95 328.62 L309.03 327.92 L310.11 327.26 L311.19 326.64 L312.28 326.05 L313.36 325.50 L314.44 324.97 L315.52 324.47 L316.60 324.00 L317.69 323.55 L318.77 323.12 L319.85 322.71 L320.93 322.32 L322.02 321.95 L323.10 321.60 L324.18 321.26 L325.26 320.94 L326.34 320.63 L327.43 320.33 L328.51 320.05 L329.59 319.78 L330.67 319.52 L331.76 319.26 L332.84 319.02 L333.92 318.79 L335.00 318.56 L336.08 318.35 L337.17 318.14 L338.25 317.94 L339.33 317.74 L340.41 317.56 L341.50 317.37 L342.58 317.20 L343.66 317.03 L344.74 316.87 L345.82 316.71 L346.91 316.55 L347.99 316.40 L349.07 316.26 L350.15 316.12 L351.23 315.98 L352.32 315.85 L353.40 315.72 L354.48 315.60 L355.56 315.48 L356.65 315.36 L357.73 315.24 L358.81 315.13 L359.89 315.03 L360.97 314.92 L362.06 314.82 L363.14 314.72 L364.22 314.62 L365.30 314.53 L366.39 314.44 L367.47 314.35 L368.55 314.26 L369.63 314.18 L370.71 314.10 L371.80 314.02 L372.88 313.94 L373.96 313.87 L375.04 313.79 L376.12 313.72 L377.21 313.65 L378.29 313.58 L379.37 313.52 L380.45 313.45 L381.54 313.39 L382.62 313.33 L383.70 313.27 L384.78 313.21 L385.86 313.15 L386.95 313.09 L388.03 313.04 L389.11 312.99 L390.19 312.94 L391.28 312.89 L392.36 312.84 L393.44 312.79 L394.52 312.74 L395.60 312.70 L396.69 312.65 L397.77 312.61 L398.85 312.56 L399.93 312.52 L401.02 312.48 L402.10 312.44 L403.18 312.40 L404.26 312.37 L405.34 312.33 L406.43 312.29 L407.51 312.26 L408.59 312.22 L409.67 312.19 L410.75 312.16 L411.84 312.13 L412.92 312.09 L414.00 312.06 L415.08 312.03 L416.17 312.00 L417.25 311.98 L418.33 311.95 L419.41 311.92 L420.49 311.89 L421.58 311.87 L422.66 311.84 L423.74 311.82 L424.82 311.79 L425.91 311.77 L426.99 311.74 L428.07 311.72 L429.15 311.70 L430.23 311.68 L431.32 311.65 L432.40 311.63 L433.48 311.61 L434.56 311.59 L435.65 311.57 L436.73 311.55 L437.81 311.53 L438.89 311.51 L439.97 311.50 L441.06 311.48 L442.14 311.46 L443.22 311.44 L444.30 311.43 L445.38 311.41 L446.47 311.39 L447.55 311.38 L448.63 311.36 L449.71 311.35 L450.80 311.33 L451.88 311.31 L452.96 311.30 L454.04 311.29 L455.12 311.27 L456.21 311.26 L457.29 311.24 L458.37 311.23 L459.45 311.22 L460.54 311.20 L461.62 311.19 L462.70 311.18" fill="none" stroke="#1e1ef0" stroke-width="1.10" stroke-linejoin="round" clip-path="url(#cd)"/>
<path d="M289.55 297.68 L290.63 296.40 L291.71 295.31 L292.80 294.36 L293.88 293.53 L294.96 292.79 L296.04 292.13 L297.13 291.53 L298.21 290.99 L299.29 290.50 L300.37 290.05 L301.45 289.63 L302.54 289.25 L303.62 288.90 L304.70 288.57 L305.78 288.26 L306.87 287.97 L307.95 287.71 L309.03 287.46 L310.11 287.22 L311.19 287.00 L312.28 286.80 L313.36 286.61 L314.44 286.43 L315.52 286.26 L316.60 286.10 L317.69 285.95 L318.77 285.81 L319.85 285.68 L320.93 285.56 L322.02 285.45 L323.10 285.34 L324.18 285.24 L325.26 285.14 L326.34 285.05 L327.43 284.97 L328.51 284.89 L329.59 284.82 L330.67 284.75 L331.76 284.68 L332.84 284.62 L333.92 284.57 L335.00 284.51 L336.08 284.46 L337.17 284.42 L338.25 284.37 L339.33 284.33 L340.41 284.29 L341.50 284.26 L342.58 284.22 L343.66 284.19 L344.74 284.16 L345.82 284.13 L346.91 284.11 L347.99 284.08 L349.07 284.06 L350.15 284.04 L351.23 284.02 L352.32 284.00 L353.40 283.98 L354.48 283.96 L355.56 283.95 L356.65 283.93 L357.73 283.92 L358.81 283.91 L359.89 283.90 L360.97 283.89 L362.06 283.88 L363.14 283.87 L364.22 283.86 L365.30 283.85 L366.39 283.84 L367.47 283.83 L368.55 283.83 L369.63 283.82 L370.71 283.82 L371.80 283.81 L372.88 283.81 L373.96 283.80 L375.04 283.80 L376.12 283.79 L377.21 283.79 L378.29 283.79 L379.37 283.78 L380.45 283.78 L381.54 283.78 L382.62 283.78 L383.70 283.78 L384.78 283.77 L385.86 283.77 L386.95 283.77 L388.03 283.77 L389.11 283.77 L390.19 283.77 L391.28 283.77 L392.36 283.77 L393.44 283.77 L394.52 283.77 L395.60 283.76 L396.69 283.76 L397.77 283.76 L398.85 283.76 L399.93 283.76 L401.02 283.76 L402.10 283.77 L403.18 283.77 L404.26 283.77 L405.34 283.77 L406.43 283.77 L407.51 283.77 L408.59 283.77 L409.67 283.77 L410.75 283.77 L411.84 283.77 L412.92 283.77 L414.00 283.77 L415.08 283.77 L416.17 283.77 L417.25 283.77 L418.33 283.77 L419.41 283.78 L420.49 283.78 L421.58 283.78 L422.66 283.78 L423.74 283.78 L424.82 283.78 L425.91 283.78 L426.99 283.78 L428.07 283.78 L429.15 283.78 L430.23 283.79 L431.32 283.79 L432.40 283.79 L433.48 283.79 L434.56 283.79 L435.65 283.79 L436.73 283.79 L437.81 283.79 L438.89 283.80 L439.97 283.80 L441.06 283.80 L442.14 283.80 L443.22 283.80 L444.30 283.80 L445.38 283.80 L446.47 283.80 L447.55 283.81 L448.63 283.81 L449.71 283.81 L450.80 283.81 L451.88 283.81 L452.96 283.81 L454.04 283.81 L455.12 283.81 L456.21 283.82 L457.29 283.82 L458.37 283.82 L459.45 283.82 L460.54 283.82 L461.62 283.82 L462.70 283.82" fill="none" stroke="#c82828" stroke-width="1.10" stroke-linejoin="round" clip-path="url(#cd)"/>
<path d="M289.55 278.36 L290.63 277.30 L291.71 276.40 L292.80 275.61 L293.88 274.93 L294.96 274.32 L296.04 273.77 L297.13 273.29 L298.21 272.84 L299.29 272.44 L300.37 272.07 L301.45 271.73 L302.54 271.42 L303.62 271.13 L304.70 270.87 L305.78 270.62 L306.87 270.40 L307.95 270.19 L309.03 269.99 L310.11 269.81 L311.19 269.64 L312.28 269.49 L313.36 269.34 L314.44 269.21 L315.52 269.08 L316.60 268.97 L317.69 268.86 L318.77 268.76 L319.85 268.67 L320.93 268.59 L322.02 268.51 L323.10 268.44 L324.18 268.37 L325.26 268.31 L326.34 268.25 L327.43 268.20 L328.51 268.16 L329.59 268.11 L330.67 268.07 L331.76 268.04 L332.84 268.00 L333.92 267.97 L335.00 267.94 L336.08 267.92 L337.17 267.90 L338.25 267.88 L339.33 267.86 L340.41 267.84 L341.50 267.83 L342.58 267.82 L343.66 267.80 L344.74 267.79 L345.82 267.79 L346.91 267.78 L347.99 267.77 L349.07 267.77 L350.15 267.77 L351.23 267.76 L352.32 267.76 L353.40 267.76 L354.48 267.76 L355.56 267.76 L356.65 267.76 L357.73 267.77 L358.81 267.77 L359.89 267.77 L360.97 267.78 L362.06 267.78 L363.14 267.79 L364.22 267.79 L365.30 267.80 L366.39 267.80 L367.47 267.81 L368.55 267.82 L369.63 267.82 L370.71 267.83 L371.80 267.84 L372.88 267.85 L373.96 267.85 L375.04 267.86 L376.12 267.87 L377.21 267.88 L378.29 267.89 L379.37 267.90 L380.45 267.91 L381.54 267.91 L382.62 267.92 L383.70 267.93 L384.78 267.94 L385.86 267.95 L386.95 267.96 L388.03 267.97 L389.11 267.98 L390.19 267.99 L391.28 268.00 L392.36 268.01 L393.44 268.02 L394.52 268.03 L395.60 268.04 L396.69 268.06 L397.77 268.07 L398.85 268.08 L399.93 268.09 L401.02 268.10 L402.10 268.11 L403.18 268.12 L404.26 268.13 L405.34 268.14 L406.43 268.15 L407.51 268.16 L408.59 268.17 L409.67 268.18 L410.75 268.20 L411.84 268.21 L412.92 268.22 L414.00 268.23 L415.08 268.24 L416.17 268.25 L417.25 268.26 L418.33 268.27 L419.41 268.28 L420.49 268.29 L421.58 268.31 L422.66 268.32 L423.74 268.33 L424.82 268.34 L425.91 268.35 L426.99 268.36 L428.07 268.37 L429.15 268.38 L430.23 268.39 L431.32 268.41 L432.40 268.42 L433.48 268.43 L434.56 268.44 L435.65 268.45 L436.73 268.46 L437.81 268.47 L438.89 268.48 L439.97 268.50 L441.06 268.51 L442.14 268.52 L443.22 268.53 L444.30 268.54 L445.38 268.55 L446.47 268.56 L447.55 268.57 L448.63 268.59 L449.71 268.60 L450.80 268.61 L451.88 268.62 L452.96 268.63 L454.04 268.64 L455.12 268.65 L456.21 268.66 L457.29 268.68 L458.37 268.69 L459.45 268.70 L460.54 268.71 L461.62 268.72 L462.70 268.73" fill="none" stroke="#1e783c" stroke-width="1.10" stroke-linejoin="round" clip-path="url(#cd)"/>
<path d="M289.55 264.54 L290.63 264.19 L291.71 263.87 L292.80 263.58 L293.88 263.31 L294.96 263.06 L296.04 262.83 L297.13 262.63 L298.21 262.44 L299.29 262.26 L300.37 262.11 L301.45 261.96 L302.54 261.83 L303.62 261.71 L304.70 261.60 L305.78 261.50 L306.87 261.40 L307.95 261.32 L309.03 261.24 L310.11 261.17 L311.19 261.11 L312.28 261.05 L313.36 261.00 L314.44 260.95 L315.52 260.91 L316.60 260.87 L317.69 260.83 L318.77 260.80 L319.85 260.77 L320.93 260.74 L322.02 260.72 L323.10 260.70 L324.18 260.68 L325.26 260.66 L326.34 260.65 L327.43 260.64 L328.51 260.62 L329.59 260.61 L330.67 260.61 L331.76 260.60 L332.84 260.59 L333.92 260.59 L335.00 260.58 L336.08 260.58 L337.17 260.58 L338.25 260.57 L339.33 260.57 L340.41 260.57 L341.50 260.57 L342.58 260.57 L343.66 260.57 L344.74 260.58 L345.82 260.58 L346.91 260.58 L347.99 260.58 L349.07 260.59 L350.15 260.59 L351.23 260.59 L352.32 260.60 L353.40 260.60 L354.48 260.61 L355.56 260.61 L356.65 260.62 L357.73 260.62 L358.81 260.63 L359.89 260.63 L360.97 260.64 L362.06 260.65 L363.14 260.65 L364.22 260.66 L365.30 260.66 L366.39 260.67 L367.47 260.68 L368.55 260.68 L369.63 260.69 L370.71 260.70 L371.80 260.71 L372.88 260.71 L373.96 260.72 L375.04 260.73 L376.12 260.74 L377.21 260.74 L378.29 260.75 L379.37 260.76 L380.45 260.77 L381.54 260.77 L382.62 260.78 L383.70 260.79 L384.78 260.80 L385.86 260.81 L386.95 260.81 L388.03 260.82 L389.11 260.83 L390.19 260.84 L391.28 260.85 L392.36 260.86 L393.44 260.87 L394.52 260.87 L395.60 260.88 L396.69 260.89 L397.77 260.90 L398.85 260.91 L399.93 260.92 L401.02 260.93 L402.10 260.94 L403.18 260.95 L404.26 260.95 L405.34 260.96 L406.43 260.97 L407.51 260.98 L408.59 260.99 L409.67 261.00 L410.75 261.01 L411.84 261.02 L412.92 261.03 L414.00 261.04 L415.08 261.05 L416.17 261.06 L417.25 261.07 L418.33 261.08 L419.41 261.09 L420.49 261.10 L421.58 261.11 L422.66 261.12 L423.74 261.13 L424.82 261.14 L425.91 261.15 L426.99 261.16 L428.07 261.17 L429.15 261.18 L430.23 261.19 L431.32 261.20 L432.40 261.21 L433.48 261.22 L434.56 261.23 L435.65 261.24 L436.73 261.25 L437.81 261.26 L438.89 261.27 L439.97 261.28 L441.06 261.29 L442.14 261.30 L443.22 261.31 L444.30 261.32 L445.38 261.33 L446.47 261.35 L447.55 261.36 L448.63 261.37 L449.71 261.38 L450.80 261.39 L451.88 261.40 L452.96 261.41 L454.04 261.42 L455.12 261.43 L456.21 261.44 L457.29 261.46 L458.37 261.47 L459.45 261.48 L460.54 261.49 L461.62 261.50 L462.70 261.51" fill="none" stroke="#ff1e96" stroke-width="1.10" stroke-linejoin="round" clip-path="url(#cd)"/>
<path d="M289.55 258.24 L290.63 257.99 L291.71 257.76 L292.80 257.54 L293.88 257.34 L294.96 257.16 L296.04 256.98 L297.13 256.83 L298.21 256.68 L299.29 256.55 L300.37 256.42 L301.45 256.31 L302.54 256.20 L303.62 256.11 L304.70 256.02 L305.78 255.94 L306.87 255.86 L307.95 255.79 L309.03 255.73 L310.11 255.67 L311.19 255.62 L312.28 255.57 L313.36 255.53 L314.44 255.49 L315.52 255.46 L316.60 255.42 L317.69 255.40 L318.77 255.37 L319.85 255.35 L320.93 255.33 L322.02 255.31 L323.10 255.30 L324.18 255.28 L325.26 255.27 L326.34 255.26 L327.43 255.26 L328.51 255.25 L329.59 255.25 L330.67 255.24 L331.76 255.24 L332.84 255.24 L333.92 255.24 L335.00 255.24 L336.08 255.25 L337.17 255.25 L338.25 255.25 L339.33 255.26 L340.41 255.26 L341.50 255.27 L342.58 255.28 L343.66 255.29 L344.74 255.29 L345.82 255.30 L346.91 255.31 L347.99 255.32 L349.07 255.33 L350.15 255.34 L351.23 255.35 L352.32 255.36 L353.40 255.37 L354.48 255.39 L355.56 255.40 L356.65 255.41 L357.73 255.42 L358.81 255.43 L359.89 255.45 L360.97 255.46 L362.06 255.47 L363.14 255.49 L364.22 255.50 L365.30 255.51 L366.39 255.53 L367.47 255.54 L368.55 255.55 L369.63 255.57 L370.71 255.58 L371.80 255.59 L372.88 255.61 L373.96 255.62 L375.04 255.64 L376.12 255.65 L377.21 255.67 L378.29 255.68 L379.37 255.70 L380.45 255.71 L381.54 255.72 L382.62 255.74 L383.70 255.75 L384.78 255.77 L385.86 255.78 L386.95 255.80 L388.03 255.81 L389.11 255.83 L390.19 255.84 L391.28 255.86 L392.36 255.87 L393.44 255.89 L394.52 255.90 L395.60 255.92 L396.69 255.93 L397.77 255.95 L398.85 255.96 L399.93 255.98 L401.02 255.99 L402.10 256.01 L403.18 256.02 L404.26 256.04 L405.34 256.05 L406.43 256.07 L407.51 256.08 L408.59 256.10 L409.67 256.11 L410.75 256.13 L411.84 256.14 L412.92 256.16 L414.00 256.17 L415.08 256.19 L416.17 256.20 L417.25 256.22 L418.33 256.23 L419.41 256.25 L420.49 256.26 L421.58 256.28 L422.66 256.29 L423.74 256.31 L424.82 256.32 L425.91 256.34 L426.99 256.36 L428.07 256.37 L429.15 256.39 L430.23 256.40 L431.32 256.42 L432.40 256.43 L433.48 256.45 L434.56 256.46 L435.65 256.48 L436.73 256.49 L437.81 256.51 L438.89 256.52 L439.97 256.54 L441.06 256.55 L442.14 256.57 L443.22 256.58 L444.30 256.60 L445.38 256.61 L446.47 256.63 L447.55 256.64 L448.63 256.66 L449.71 256.67 L450.80 256.69 L451.88 256.70 L452.96 256.72 L454.04 256.73 L455.12 256.75 L456.21 256.77 L457.29 256.78 L458.37 256.80 L459.45 256.81 L460.54 256.83 L461.62 256.84 L462.70 256.86" fill="none" stroke="#141414" stroke-width="1.10" stroke-linejoin="round" clip-path="url(#cd)"/>
<text transform="translate(289.55 408.80) scale(0.890 1)" font-size="13.00" text-anchor="middle" fill="#111"   stroke="#111" stroke-width="0.22">0.0005</text>
<text transform="translate(332.84 408.80) scale(0.890 1)" font-size="13.00" text-anchor="middle" fill="#111"   stroke="#111" stroke-width="0.22">0.001</text>
<text transform="translate(376.12 408.80) scale(0.890 1)" font-size="13.00" text-anchor="middle" fill="#111"   stroke="#111" stroke-width="0.22">0.0015</text>
<text transform="translate(419.41 408.80) scale(0.890 1)" font-size="13.00" text-anchor="middle" fill="#111"   stroke="#111" stroke-width="0.22">0.002</text>
<text transform="translate(462.70 408.80) scale(0.890 1)" font-size="13.00" text-anchor="middle" fill="#111"   stroke="#111" stroke-width="0.22">0.0025</text>
<text transform="translate(285.25 398.70) scale(0.890 1)" font-size="13.00" text-anchor="end" fill="#111"   stroke="#111" stroke-width="0.22">0.6</text>
<text transform="translate(285.25 355.50) scale(0.890 1)" font-size="13.00" text-anchor="end" fill="#111"   stroke="#111" stroke-width="0.22">0.7</text>
<text transform="translate(285.25 312.30) scale(0.890 1)" font-size="13.00" text-anchor="end" fill="#111"   stroke="#111" stroke-width="0.22">0.8</text>
<text transform="translate(285.25 269.10) scale(0.890 1)" font-size="13.00" text-anchor="end" fill="#111"   stroke="#111" stroke-width="0.22">0.9</text>
<text transform="translate(285.25 225.90) scale(0.890 1)" font-size="13.00" text-anchor="end" fill="#111"   stroke="#111" stroke-width="0.22">1.0</text>
<text transform="translate(79.70 32.00) scale(1.060 1)" font-size="14.40" text-anchor="middle" fill="#111"  stroke="#111" stroke-width="0.38">(a)</text>
<text transform="translate(309.30 32.00) scale(1.060 1)" font-size="14.40" text-anchor="middle" fill="#111"  stroke="#111" stroke-width="0.38">(b)</text>
<text transform="translate(80.80 243.40) scale(1.060 1)" font-size="14.40" text-anchor="middle" fill="#111"  stroke="#111" stroke-width="0.38">(c)</text>
<text transform="translate(308.20 242.20) scale(1.060 1)" font-size="14.40" text-anchor="middle" fill="#111"  stroke="#111" stroke-width="0.38">(d)</text>
<text x="145.10" y="212.20" font-size="17.00" text-anchor="middle" fill="#111" font-style="italic"  stroke="#111" stroke-width="0.22">R</text>
<text x="375.30" y="212.20" font-size="17.00" text-anchor="middle" fill="#111" font-style="italic"  stroke="#111" stroke-width="0.22">R</text>
<text x="170.55" y="424.70" font-size="16.00" text-anchor="middle" fill="#111" font-style="italic"  stroke="#111" stroke-width="0.22">p</text>
<path d="M166.60 415.30 c0.97 -2.0 2.43 -2.3 4.05 -1.1 c1.62 1.1 2.92 1.1 3.73 -1.0" fill="none" stroke="#111" stroke-width="1.3" stroke-linecap="butt"/>
<text x="399.40" y="422.60" font-size="16.00" text-anchor="middle" fill="#111" font-style="italic"  stroke="#111" stroke-width="0.22">p</text>
<path d="M395.35 412.65 c0.97 -2.0 2.41 -2.3 4.02 -1.1 c1.61 1.1 2.90 1.1 3.70 -1.0" fill="none" stroke="#111" stroke-width="1.3" stroke-linecap="butt"/>
<g transform="translate(13.20 100.00) rotate(-90)">
<text x="0" y="0" font-size="16.5" font-style="italic" fill="#111">c</text>
<text x="8.00" y="5.10" font-size="10.00" fill="#111">1</text>
</g>
<g transform="translate(252.30 106.60) rotate(-90)">
<text x="0" y="0" font-size="16.5" font-style="italic" fill="#111">c</text>
<text x="8.10" y="7.10" font-size="10.50" fill="#111">2</text>
</g>
<g transform="translate(17.00 310.30) rotate(-90)">
<text x="0" y="0" font-size="16.5" font-style="italic" fill="#111">c</text>
<text x="8.00" y="5.10" font-size="10.00" fill="#111">1</text>
</g>
<g transform="translate(259.30 302.40) rotate(-90)">
<text x="0" y="0" font-size="16.5" font-style="italic" fill="#111">c</text>
<text x="8.30" y="4.80" font-size="10.50" fill="#111">2</text>
</g>
<path d="M166.90 48.90 H183.60" stroke="#1e1ef0" stroke-width="0.9" opacity="0.8"/>
<circle cx="175.25" cy="48.90" r="1.04" fill="#1e1ef0" fill-opacity="0.25" stroke="#1e1ef0" stroke-width="0.6" opacity="0.55"/>
<text transform="translate(185.60 52.80) scale(0.870 1)" font-size="13.20" text-anchor="start" fill="#1e1ef0"   stroke="#1e1ef0" stroke-width="0.22">0.00078</text>
<path d="M166.90 59.96 H183.60" stroke="#c82828" stroke-width="0.9" opacity="0.8"/>
<rect x="174.15" y="58.86" width="2.20" height="2.20" fill="none" stroke="#c82828" stroke-width="0.6" opacity="0.55"/>
<text transform="translate(185.60 63.86) scale(0.870 1)" font-size="13.20" text-anchor="start" fill="#c82828"   stroke="#c82828" stroke-width="0.22">0.00107</text>
<path d="M166.90 71.02 H183.60" stroke="#1e783c" stroke-width="0.9" opacity="0.8"/>
<path d="M175.25 69.46 L176.68 72.06 L173.82 72.06 Z" fill="none" stroke="#1e783c" stroke-width="0.6" opacity="0.55"/>
<text transform="translate(185.60 74.92) scale(0.870 1)" font-size="13.20" text-anchor="start" fill="#1e783c"   stroke="#1e783c" stroke-width="0.22">0.00137</text>
<path d="M166.90 82.08 H183.60" stroke="#ff1e96" stroke-width="0.9" opacity="0.8"/>
<circle cx="175.25" cy="82.08" r="1.04" fill="#ff1e96" fill-opacity="0.25" stroke="#ff1e96" stroke-width="0.6" opacity="0.55"/>
<text transform="translate(185.60 85.98) scale(0.870 1)" font-size="13.20" text-anchor="start" fill="#ff1e96"   stroke="#ff1e96" stroke-width="0.22">0.00166</text>
<path d="M166.90 93.14 H183.60" stroke="#141414" stroke-width="0.9" opacity="0.8"/>
<rect x="174.15" y="92.04" width="2.20" height="2.20" fill="none" stroke="#141414" stroke-width="0.6" opacity="0.55"/>
<text transform="translate(185.60 97.04) scale(0.870 1)" font-size="13.20" text-anchor="start" fill="#141414"   stroke="#141414" stroke-width="0.22">0.00195</text>
<path d="M166.90 104.20 H183.60" stroke="#8228f0" stroke-width="0.9" opacity="0.8"/>
<circle cx="175.25" cy="104.20" r="1.04" fill="#8228f0" fill-opacity="0.25" stroke="#8228f0" stroke-width="0.6" opacity="0.55"/>
<text transform="translate(185.60 108.10) scale(0.870 1)" font-size="13.20" text-anchor="start" fill="#8228f0"   stroke="#8228f0" stroke-width="0.22">0.00225</text>
<text x="203.10" y="34.50" font-size="14.70" text-anchor="middle" fill="#111" font-style="italic"  stroke="#111" stroke-width="0.22">p</text>
<path d="M199.20 25.40 c0.92 -2.0 2.31 -2.3 3.85 -1.1 c1.54 1.1 2.77 1.1 3.54 -1.0" fill="none" stroke="#111" stroke-width="1.3" stroke-linecap="butt"/>
<path d="M398.10 118.90 H414.60" stroke="#1e1ef0" stroke-width="0.9" opacity="0.8"/>
<circle cx="406.35" cy="118.90" r="1.04" fill="#1e1ef0" fill-opacity="0.25" stroke="#1e1ef0" stroke-width="0.6" opacity="0.55"/>
<text transform="translate(416.40 122.80) scale(0.870 1)" font-size="13.20" text-anchor="start" fill="#1e1ef0"   stroke="#1e1ef0" stroke-width="0.22">0.00078</text>
<path d="M398.10 129.86 H414.60" stroke="#c82828" stroke-width="0.9" opacity="0.8"/>
<rect x="405.25" y="128.76" width="2.20" height="2.20" fill="none" stroke="#c82828" stroke-width="0.6" opacity="0.55"/>
<text transform="translate(416.40 133.76) scale(0.870 1)" font-size="13.20" text-anchor="start" fill="#c82828"   stroke="#c82828" stroke-width="0.22">0.00107</text>
<path d="M398.10 140.82 H414.60" stroke="#1e783c" stroke-width="0.9" opacity="0.8"/>
<path d="M406.35 139.26 L407.78 141.86 L404.92 141.86 Z" fill="none" stroke="#1e783c" stroke-width="0.6" opacity="0.55"/>
<text transform="translate(416.40 144.72) scale(0.870 1)" font-size="13.20" text-anchor="start" fill="#1e783c"   stroke="#1e783c" stroke-width="0.22">0.00137</text>
<path d="M398.10 151.78 H414.60" stroke="#ff1e96" stroke-width="0.9" opacity="0.8"/>
<circle cx="406.35" cy="151.78" r="1.04" fill="#ff1e96" fill-opacity="0.25" stroke="#ff1e96" stroke-width="0.6" opacity="0.55"/>
<text transform="translate(416.40 155.68) scale(0.870 1)" font-size="13.20" text-anchor="start" fill="#ff1e96"   stroke="#ff1e96" stroke-width="0.22">0.00166</text>
<path d="M398.10 162.74 H414.60" stroke="#141414" stroke-width="0.9" opacity="0.8"/>
<rect x="405.25" y="161.64" width="2.20" height="2.20" fill="none" stroke="#141414" stroke-width="0.6" opacity="0.55"/>
<text transform="translate(416.40 166.64) scale(0.870 1)" font-size="13.20" text-anchor="start" fill="#141414"   stroke="#141414" stroke-width="0.22">0.00195</text>
<path d="M398.10 173.70 H414.60" stroke="#8228f0" stroke-width="0.9" opacity="0.8"/>
<circle cx="406.35" cy="173.70" r="1.04" fill="#8228f0" fill-opacity="0.25" stroke="#8228f0" stroke-width="0.6" opacity="0.55"/>
<text transform="translate(416.40 177.60) scale(0.870 1)" font-size="13.20" text-anchor="start" fill="#8228f0"   stroke="#8228f0" stroke-width="0.22">0.00225</text>
<text x="433.45" y="104.50" font-size="14.70" text-anchor="middle" fill="#111" font-style="italic"  stroke="#111" stroke-width="0.22">p</text>
<path d="M429.60 95.40 c0.90 -2.0 2.25 -2.3 3.75 -1.1 c1.50 1.1 2.70 1.1 3.45 -1.0" fill="none" stroke="#111" stroke-width="1.3" stroke-linecap="butt"/>
<path d="M104.70 237.90 H121.20" stroke="#1e1ef0" stroke-width="0.9" opacity="0.8"/>
<circle cx="112.95" cy="237.90" r="1.04" fill="#1e1ef0" fill-opacity="0.25" stroke="#1e1ef0" stroke-width="0.6" opacity="0.55"/>
<text transform="translate(123.30 241.50) scale(0.900 1)" font-size="12.40" text-anchor="start" fill="#1e1ef0" font-style="italic"  stroke="#1e1ef0" stroke-width="0.22">R</text>
<path d="M133.70 236.45 h6.3 M133.70 238.95 h6.3" stroke="#1e1ef0" stroke-width="1.0" fill="none"/>
<text transform="translate(142.30 241.65) scale(0.880 1)" font-size="13.20" text-anchor="start" fill="#1e1ef0"   stroke="#1e1ef0" stroke-width="0.22">2.8</text>
<path d="M104.70 251.37 H121.20" stroke="#c82828" stroke-width="0.9" opacity="0.8"/>
<rect x="111.85" y="250.27" width="2.20" height="2.20" fill="none" stroke="#c82828" stroke-width="0.6" opacity="0.55"/>
<text transform="translate(123.30 254.97) scale(0.900 1)" font-size="12.40" text-anchor="start" fill="#c82828" font-style="italic"  stroke="#c82828" stroke-width="0.22">R</text>
<path d="M133.70 249.92 h6.3 M133.70 252.42 h6.3" stroke="#c82828" stroke-width="1.0" fill="none"/>
<text transform="translate(142.30 255.12) scale(0.880 1)" font-size="13.20" text-anchor="start" fill="#c82828"   stroke="#c82828" stroke-width="0.22">4.2</text>
<path d="M104.70 264.84 H121.20" stroke="#1e783c" stroke-width="0.9" opacity="0.8"/>
<path d="M112.95 263.28 L114.38 265.88 L111.52 265.88 Z" fill="none" stroke="#1e783c" stroke-width="0.6" opacity="0.55"/>
<text transform="translate(123.30 268.44) scale(0.900 1)" font-size="12.40" text-anchor="start" fill="#1e783c" font-style="italic"  stroke="#1e783c" stroke-width="0.22">R</text>
<path d="M133.70 263.39 h6.3 M133.70 265.89 h6.3" stroke="#1e783c" stroke-width="1.0" fill="none"/>
<text transform="translate(142.30 268.59) scale(0.880 1)" font-size="13.20" text-anchor="start" fill="#1e783c"   stroke="#1e783c" stroke-width="0.22">5.8</text>
<path d="M104.70 278.31 H121.20" stroke="#ff1e96" stroke-width="0.9" opacity="0.8"/>
<circle cx="112.95" cy="278.31" r="1.04" fill="#ff1e96" fill-opacity="0.25" stroke="#ff1e96" stroke-width="0.6" opacity="0.55"/>
<text transform="translate(123.30 281.91) scale(0.900 1)" font-size="12.40" text-anchor="start" fill="#ff1e96" font-style="italic"  stroke="#ff1e96" stroke-width="0.22">R</text>
<path d="M133.70 276.86 h6.3 M133.70 279.36 h6.3" stroke="#ff1e96" stroke-width="1.0" fill="none"/>
<text transform="translate(142.30 282.06) scale(0.880 1)" font-size="13.20" text-anchor="start" fill="#ff1e96"   stroke="#ff1e96" stroke-width="0.22">7.0</text>
<path d="M104.70 291.78 H121.20" stroke="#141414" stroke-width="0.9" opacity="0.8"/>
<rect x="111.85" y="290.68" width="2.20" height="2.20" fill="none" stroke="#141414" stroke-width="0.6" opacity="0.55"/>
<text transform="translate(123.30 295.38) scale(0.900 1)" font-size="12.40" text-anchor="start" fill="#141414" font-style="italic"  stroke="#141414" stroke-width="0.22">R</text>
<path d="M133.70 290.33 h6.3 M133.70 292.83 h6.3" stroke="#141414" stroke-width="1.0" fill="none"/>
<text transform="translate(142.30 295.53) scale(0.880 1)" font-size="13.20" text-anchor="start" fill="#141414"   stroke="#141414" stroke-width="0.22">8.2</text>
<path d="M395.20 331.10 H411.20" stroke="#1e1ef0" stroke-width="0.9" opacity="0.8"/>
<circle cx="403.20" cy="331.10" r="1.04" fill="#1e1ef0" fill-opacity="0.25" stroke="#1e1ef0" stroke-width="0.6" opacity="0.55"/>
<text transform="translate(413.20 334.70) scale(0.900 1)" font-size="12.40" text-anchor="start" fill="#1e1ef0" font-style="italic"  stroke="#1e1ef0" stroke-width="0.22">R</text>
<path d="M423.60 329.65 h6.3 M423.60 332.15 h6.3" stroke="#1e1ef0" stroke-width="1.0" fill="none"/>
<text transform="translate(432.20 334.85) scale(0.880 1)" font-size="13.20" text-anchor="start" fill="#1e1ef0"   stroke="#1e1ef0" stroke-width="0.22">2.8</text>
<path d="M395.20 344.48 H411.20" stroke="#c82828" stroke-width="0.9" opacity="0.8"/>
<rect x="402.10" y="343.38" width="2.20" height="2.20" fill="none" stroke="#c82828" stroke-width="0.6" opacity="0.55"/>
<text transform="translate(413.20 348.08) scale(0.900 1)" font-size="12.40" text-anchor="start" fill="#c82828" font-style="italic"  stroke="#c82828" stroke-width="0.22">R</text>
<path d="M423.60 343.03 h6.3 M423.60 345.53 h6.3" stroke="#c82828" stroke-width="1.0" fill="none"/>
<text transform="translate(432.20 348.23) scale(0.880 1)" font-size="13.20" text-anchor="start" fill="#c82828"   stroke="#c82828" stroke-width="0.22">4.2</text>
<path d="M395.20 357.86 H411.20" stroke="#1e783c" stroke-width="0.9" opacity="0.8"/>
<path d="M403.20 356.30 L404.63 358.90 L401.77 358.90 Z" fill="none" stroke="#1e783c" stroke-width="0.6" opacity="0.55"/>
<text transform="translate(413.20 361.46) scale(0.900 1)" font-size="12.40" text-anchor="start" fill="#1e783c" font-style="italic"  stroke="#1e783c" stroke-width="0.22">R</text>
<path d="M423.60 356.41 h6.3 M423.60 358.91 h6.3" stroke="#1e783c" stroke-width="1.0" fill="none"/>
<text transform="translate(432.20 361.61) scale(0.880 1)" font-size="13.20" text-anchor="start" fill="#1e783c"   stroke="#1e783c" stroke-width="0.22">5.8</text>
<path d="M395.20 371.24 H411.20" stroke="#ff1e96" stroke-width="0.9" opacity="0.8"/>
<circle cx="403.20" cy="371.24" r="1.04" fill="#ff1e96" fill-opacity="0.25" stroke="#ff1e96" stroke-width="0.6" opacity="0.55"/>
<text transform="translate(413.20 374.84) scale(0.900 1)" font-size="12.40" text-anchor="start" fill="#ff1e96" font-style="italic"  stroke="#ff1e96" stroke-width="0.22">R</text>
<path d="M423.60 369.79 h6.3 M423.60 372.29 h6.3" stroke="#ff1e96" stroke-width="1.0" fill="none"/>
<text transform="translate(432.20 374.99) scale(0.880 1)" font-size="13.20" text-anchor="start" fill="#ff1e96"   stroke="#ff1e96" stroke-width="0.22">7.0</text>
<path d="M395.20 384.62 H411.20" stroke="#141414" stroke-width="0.9" opacity="0.8"/>
<rect x="402.10" y="383.52" width="2.20" height="2.20" fill="none" stroke="#141414" stroke-width="0.6" opacity="0.55"/>
<text transform="translate(413.20 388.22) scale(0.900 1)" font-size="12.40" text-anchor="start" fill="#141414" font-style="italic"  stroke="#141414" stroke-width="0.22">R</text>
<path d="M423.60 383.17 h6.3 M423.60 385.67 h6.3" stroke="#141414" stroke-width="1.0" fill="none"/>
<text transform="translate(432.20 388.37) scale(0.880 1)" font-size="13.20" text-anchor="start" fill="#141414"   stroke="#141414" stroke-width="0.22">8.2</text>
</svg>
</body></html>
